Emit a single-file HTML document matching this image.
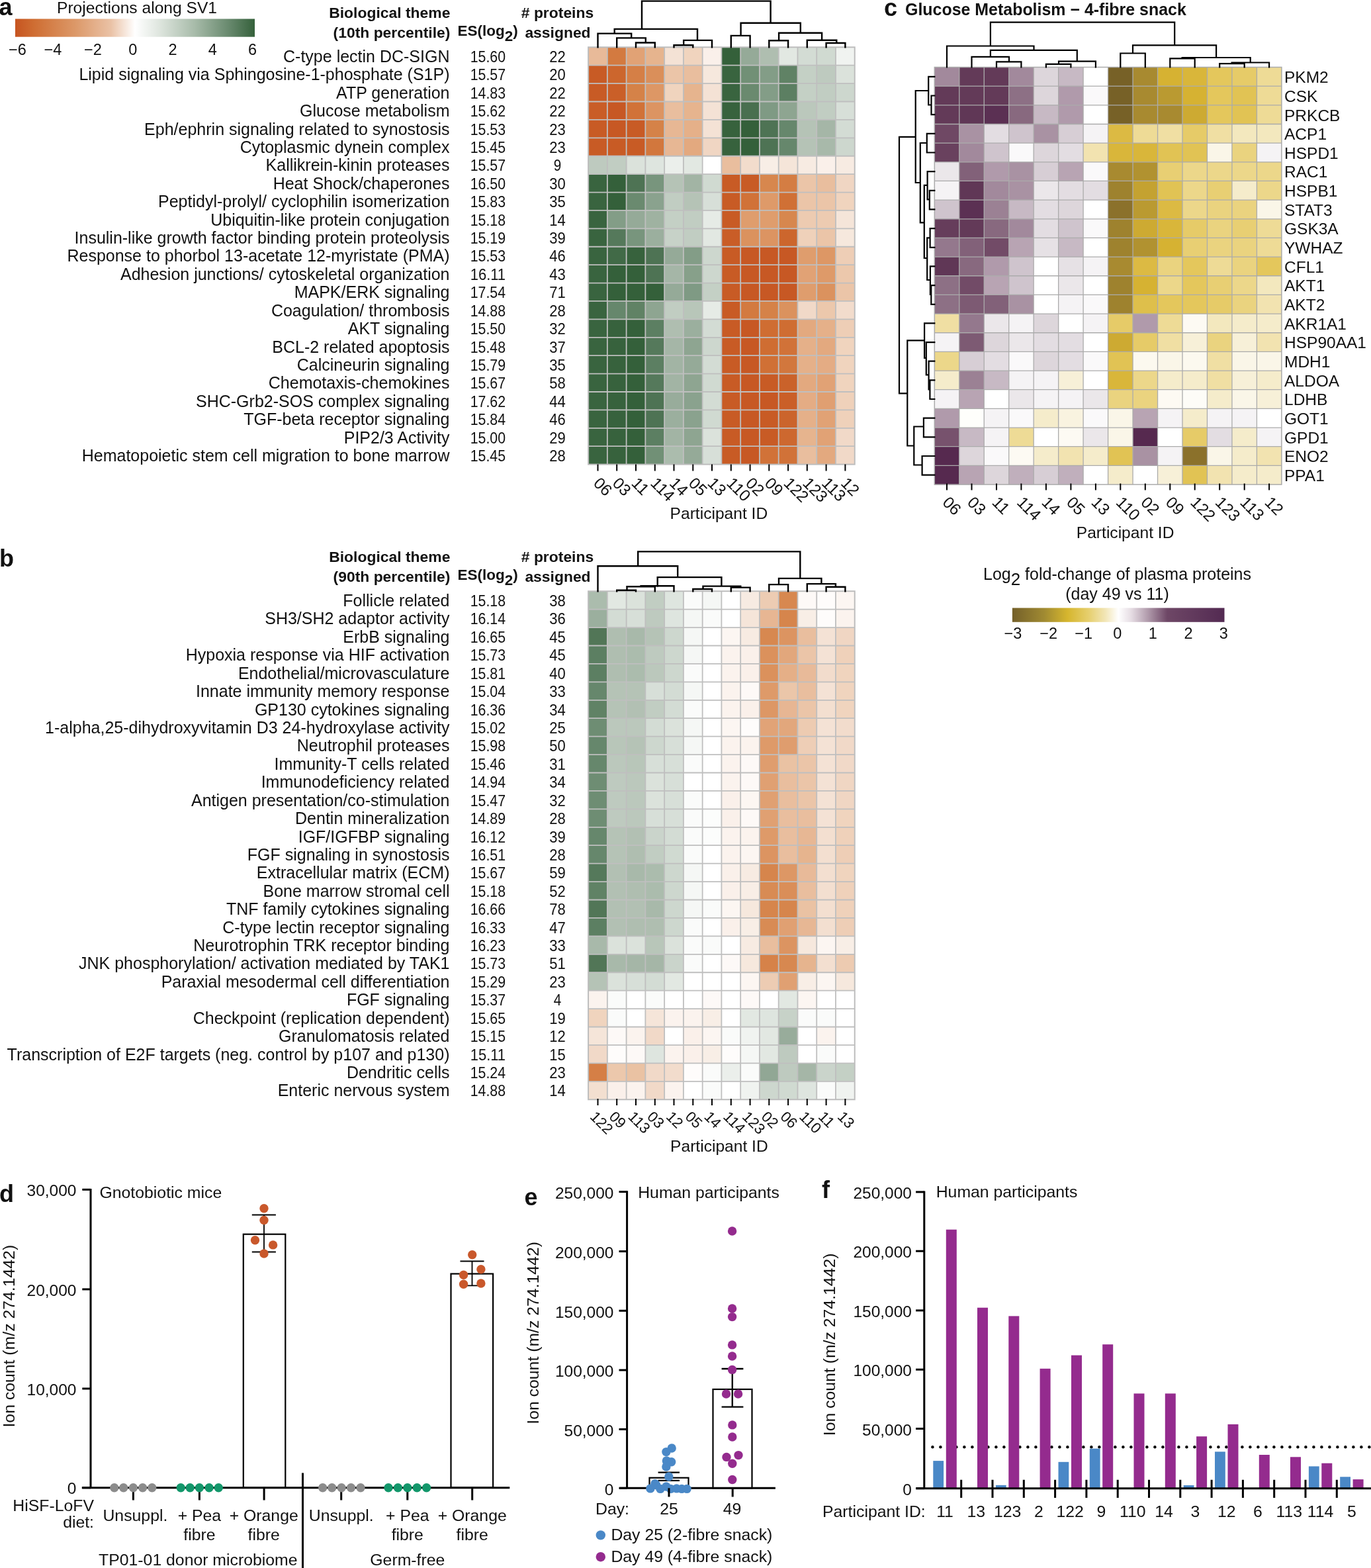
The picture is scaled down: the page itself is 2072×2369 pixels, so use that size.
<!DOCTYPE html>
<html><head><meta charset="utf-8"><title>Figure</title>
<style>html,body{margin:0;padding:0;background:#fff;} svg{display:block;} text{font-family:"Liberation Sans",Arial,sans-serif;fill:#111;}</style>
</head><body>
<svg width="2072" height="2369" viewBox="0 0 2072 2369">
<rect width="2072" height="2369" fill="#fff"/>
<text x="-1.5" y="22.5" font-size="36" text-anchor="start" font-weight="bold">a</text>
<text x="86.0" y="19.6" font-size="24.6" text-anchor="start">Projections along SV1</text>
<defs><linearGradient id="ga" x1="0" x2="1" y1="0" y2="0"><stop offset="0" stop-color="#c65420"/><stop offset="0.08" stop-color="#cf6e33"/><stop offset="0.25" stop-color="#dc9868"/><stop offset="0.4" stop-color="#eac2a6"/><stop offset="0.5" stop-color="#ffffff"/><stop offset="0.6" stop-color="#dfe6df"/><stop offset="0.75" stop-color="#a7bba9"/><stop offset="0.9" stop-color="#64866a"/><stop offset="1" stop-color="#35613b"/></linearGradient><linearGradient id="gc" x1="0" x2="1" y1="0" y2="0"><stop offset="0" stop-color="#74602a"/><stop offset="0.15" stop-color="#a08a32"/><stop offset="0.26" stop-color="#d6b62e"/><stop offset="0.36" stop-color="#e6cf6e"/><stop offset="0.44" stop-color="#f2e6b8"/><stop offset="0.5" stop-color="#ffffff"/><stop offset="0.56" stop-color="#e6dde4"/><stop offset="0.64" stop-color="#b09aab"/><stop offset="0.73" stop-color="#6e4766"/><stop offset="1" stop-color="#532a52"/></linearGradient></defs>
<rect x="23" y="28.5" width="362" height="27.2" fill="url(#ga)"/>
<text x="26.4" y="82.6" font-size="23.5" text-anchor="middle">−6</text>
<text x="79.9" y="82.6" font-size="23.5" text-anchor="middle">−4</text>
<text x="140.4" y="82.6" font-size="23.5" text-anchor="middle">−2</text>
<text x="200.9" y="82.6" font-size="23.5" text-anchor="middle">0</text>
<text x="261.0" y="82.6" font-size="23.5" text-anchor="middle">2</text>
<text x="321.2" y="82.6" font-size="23.5" text-anchor="middle">4</text>
<text x="381.5" y="82.6" font-size="23.5" text-anchor="middle">6</text>
<text x="680.4" y="27.0" font-size="22.9" text-anchor="end" font-weight="bold">Biological theme</text>
<text x="680.4" y="57.0" font-size="22.9" text-anchor="end" font-weight="bold">(10th percentile)</text>
<text x="691.6" y="54.4" font-size="22.5" font-weight="bold">ES(log<tspan dy="7.5">2</tspan><tspan dy="-7.5">)</tspan></text>
<text x="842.5" y="27.0" font-size="22.9" text-anchor="middle" font-weight="bold"># proteins</text>
<text x="843.0" y="57.0" font-size="22.9" text-anchor="middle" font-weight="bold">assigned</text>
<text x="679.5" y="93.8" font-size="25" text-anchor="end">C-type lectin DC-SIGN</text>
<text x="737.4" y="93.8" font-size="24" text-anchor="middle" textLength="53.4" lengthAdjust="spacingAndGlyphs">15.60</text>
<text x="842.5" y="93.8" font-size="24" text-anchor="middle" textLength="24.5" lengthAdjust="spacingAndGlyphs">22</text>
<text x="679.5" y="121.2" font-size="25" text-anchor="end">Lipid signaling via Sphingosine-1-phosphate (S1P)</text>
<text x="737.4" y="121.2" font-size="24" text-anchor="middle" textLength="53.4" lengthAdjust="spacingAndGlyphs">15.57</text>
<text x="842.5" y="121.2" font-size="24" text-anchor="middle" textLength="24.5" lengthAdjust="spacingAndGlyphs">20</text>
<text x="679.5" y="148.6" font-size="25" text-anchor="end">ATP generation</text>
<text x="737.4" y="148.6" font-size="24" text-anchor="middle" textLength="53.4" lengthAdjust="spacingAndGlyphs">14.83</text>
<text x="842.5" y="148.6" font-size="24" text-anchor="middle" textLength="24.5" lengthAdjust="spacingAndGlyphs">22</text>
<text x="679.5" y="176.1" font-size="25" text-anchor="end">Glucose metabolism</text>
<text x="737.4" y="176.1" font-size="24" text-anchor="middle" textLength="53.4" lengthAdjust="spacingAndGlyphs">15.62</text>
<text x="842.5" y="176.1" font-size="24" text-anchor="middle" textLength="24.5" lengthAdjust="spacingAndGlyphs">22</text>
<text x="679.5" y="203.5" font-size="25" text-anchor="end">Eph/ephrin signaling related to synostosis</text>
<text x="737.4" y="203.5" font-size="24" text-anchor="middle" textLength="53.4" lengthAdjust="spacingAndGlyphs">15.53</text>
<text x="842.5" y="203.5" font-size="24" text-anchor="middle" textLength="24.5" lengthAdjust="spacingAndGlyphs">23</text>
<text x="679.5" y="230.9" font-size="25" text-anchor="end">Cytoplasmic dynein complex</text>
<text x="737.4" y="230.9" font-size="24" text-anchor="middle" textLength="53.4" lengthAdjust="spacingAndGlyphs">15.45</text>
<text x="842.5" y="230.9" font-size="24" text-anchor="middle" textLength="24.5" lengthAdjust="spacingAndGlyphs">23</text>
<text x="679.5" y="258.3" font-size="25" text-anchor="end">Kallikrein-kinin proteases</text>
<text x="737.4" y="258.3" font-size="24" text-anchor="middle" textLength="53.4" lengthAdjust="spacingAndGlyphs">15.57</text>
<text x="842.5" y="258.3" font-size="24" text-anchor="middle" textLength="11.5" lengthAdjust="spacingAndGlyphs">9</text>
<text x="679.5" y="285.7" font-size="25" text-anchor="end">Heat Shock/chaperones</text>
<text x="737.4" y="285.7" font-size="24" text-anchor="middle" textLength="53.4" lengthAdjust="spacingAndGlyphs">16.50</text>
<text x="842.5" y="285.7" font-size="24" text-anchor="middle" textLength="24.5" lengthAdjust="spacingAndGlyphs">30</text>
<text x="679.5" y="313.2" font-size="25" text-anchor="end">Peptidyl-prolyl/ cyclophilin isomerization</text>
<text x="737.4" y="313.2" font-size="24" text-anchor="middle" textLength="53.4" lengthAdjust="spacingAndGlyphs">15.83</text>
<text x="842.5" y="313.2" font-size="24" text-anchor="middle" textLength="24.5" lengthAdjust="spacingAndGlyphs">35</text>
<text x="679.5" y="340.6" font-size="25" text-anchor="end">Ubiquitin-like protein conjugation</text>
<text x="737.4" y="340.6" font-size="24" text-anchor="middle" textLength="53.4" lengthAdjust="spacingAndGlyphs">15.18</text>
<text x="842.5" y="340.6" font-size="24" text-anchor="middle" textLength="24.5" lengthAdjust="spacingAndGlyphs">14</text>
<text x="679.5" y="368.0" font-size="25" text-anchor="end">Insulin-like growth factor binding protein proteolysis</text>
<text x="737.4" y="368.0" font-size="24" text-anchor="middle" textLength="53.4" lengthAdjust="spacingAndGlyphs">15.19</text>
<text x="842.5" y="368.0" font-size="24" text-anchor="middle" textLength="24.5" lengthAdjust="spacingAndGlyphs">39</text>
<text x="679.5" y="395.4" font-size="25" text-anchor="end">Response to phorbol 13-acetate 12-myristate (PMA)</text>
<text x="737.4" y="395.4" font-size="24" text-anchor="middle" textLength="53.4" lengthAdjust="spacingAndGlyphs">15.53</text>
<text x="842.5" y="395.4" font-size="24" text-anchor="middle" textLength="24.5" lengthAdjust="spacingAndGlyphs">46</text>
<text x="679.5" y="422.8" font-size="25" text-anchor="end">Adhesion junctions/ cytoskeletal organization</text>
<text x="737.4" y="422.8" font-size="24" text-anchor="middle" textLength="53.4" lengthAdjust="spacingAndGlyphs">16.11</text>
<text x="842.5" y="422.8" font-size="24" text-anchor="middle" textLength="24.5" lengthAdjust="spacingAndGlyphs">43</text>
<text x="679.5" y="450.3" font-size="25" text-anchor="end">MAPK/ERK signaling</text>
<text x="737.4" y="450.3" font-size="24" text-anchor="middle" textLength="53.4" lengthAdjust="spacingAndGlyphs">17.54</text>
<text x="842.5" y="450.3" font-size="24" text-anchor="middle" textLength="24.5" lengthAdjust="spacingAndGlyphs">71</text>
<text x="679.5" y="477.7" font-size="25" text-anchor="end">Coagulation/ thrombosis</text>
<text x="737.4" y="477.7" font-size="24" text-anchor="middle" textLength="53.4" lengthAdjust="spacingAndGlyphs">14.88</text>
<text x="842.5" y="477.7" font-size="24" text-anchor="middle" textLength="24.5" lengthAdjust="spacingAndGlyphs">28</text>
<text x="679.5" y="505.1" font-size="25" text-anchor="end">AKT signaling</text>
<text x="737.4" y="505.1" font-size="24" text-anchor="middle" textLength="53.4" lengthAdjust="spacingAndGlyphs">15.50</text>
<text x="842.5" y="505.1" font-size="24" text-anchor="middle" textLength="24.5" lengthAdjust="spacingAndGlyphs">32</text>
<text x="679.5" y="532.5" font-size="25" text-anchor="end">BCL-2 related apoptosis</text>
<text x="737.4" y="532.5" font-size="24" text-anchor="middle" textLength="53.4" lengthAdjust="spacingAndGlyphs">15.48</text>
<text x="842.5" y="532.5" font-size="24" text-anchor="middle" textLength="24.5" lengthAdjust="spacingAndGlyphs">37</text>
<text x="679.5" y="559.9" font-size="25" text-anchor="end">Calcineurin signaling</text>
<text x="737.4" y="559.9" font-size="24" text-anchor="middle" textLength="53.4" lengthAdjust="spacingAndGlyphs">15.79</text>
<text x="842.5" y="559.9" font-size="24" text-anchor="middle" textLength="24.5" lengthAdjust="spacingAndGlyphs">35</text>
<text x="679.5" y="587.4" font-size="25" text-anchor="end">Chemotaxis-chemokines</text>
<text x="737.4" y="587.4" font-size="24" text-anchor="middle" textLength="53.4" lengthAdjust="spacingAndGlyphs">15.67</text>
<text x="842.5" y="587.4" font-size="24" text-anchor="middle" textLength="24.5" lengthAdjust="spacingAndGlyphs">58</text>
<text x="679.5" y="614.8" font-size="25" text-anchor="end">SHC-Grb2-SOS complex signaling</text>
<text x="737.4" y="614.8" font-size="24" text-anchor="middle" textLength="53.4" lengthAdjust="spacingAndGlyphs">17.62</text>
<text x="842.5" y="614.8" font-size="24" text-anchor="middle" textLength="24.5" lengthAdjust="spacingAndGlyphs">44</text>
<text x="679.5" y="642.2" font-size="25" text-anchor="end">TGF-beta receptor signaling</text>
<text x="737.4" y="642.2" font-size="24" text-anchor="middle" textLength="53.4" lengthAdjust="spacingAndGlyphs">15.84</text>
<text x="842.5" y="642.2" font-size="24" text-anchor="middle" textLength="24.5" lengthAdjust="spacingAndGlyphs">46</text>
<text x="679.5" y="669.6" font-size="25" text-anchor="end">PIP2/3 Activity</text>
<text x="737.4" y="669.6" font-size="24" text-anchor="middle" textLength="53.4" lengthAdjust="spacingAndGlyphs">15.00</text>
<text x="842.5" y="669.6" font-size="24" text-anchor="middle" textLength="24.5" lengthAdjust="spacingAndGlyphs">29</text>
<text x="679.5" y="697.0" font-size="25" text-anchor="end">Hematopoietic stem cell migration to bone marrow</text>
<text x="737.4" y="697.0" font-size="24" text-anchor="middle" textLength="53.4" lengthAdjust="spacingAndGlyphs">15.45</text>
<text x="842.5" y="697.0" font-size="24" text-anchor="middle" textLength="24.5" lengthAdjust="spacingAndGlyphs">28</text>
<rect x="889.10" y="71.30" width="29.06" height="27.71" fill="#e8ba99"/>
<rect x="917.86" y="71.30" width="29.06" height="27.71" fill="#d37a40"/>
<rect x="946.62" y="71.30" width="29.06" height="27.71" fill="#e1a275"/>
<rect x="975.38" y="71.30" width="29.06" height="27.71" fill="#e6b48e"/>
<rect x="1004.14" y="71.30" width="29.06" height="27.71" fill="#f4e2d5"/>
<rect x="1032.90" y="71.30" width="29.06" height="27.71" fill="#f0d4be"/>
<rect x="1061.66" y="71.30" width="29.06" height="27.71" fill="#faf0ea"/>
<rect x="1090.42" y="71.30" width="29.06" height="27.71" fill="#34603a"/>
<rect x="1119.18" y="71.30" width="29.06" height="27.71" fill="#95aa98"/>
<rect x="1147.94" y="71.30" width="29.06" height="27.71" fill="#afbeb0"/>
<rect x="1176.70" y="71.30" width="29.06" height="27.71" fill="#e2e8e2"/>
<rect x="1205.46" y="71.30" width="29.06" height="27.71" fill="#d3dcd4"/>
<rect x="1234.22" y="71.30" width="29.06" height="27.71" fill="#d0dad1"/>
<rect x="1262.98" y="71.30" width="29.06" height="27.71" fill="#f0f3f0"/>
<rect x="889.10" y="98.70" width="29.06" height="27.71" fill="#c85b25"/>
<rect x="917.86" y="98.70" width="29.06" height="27.71" fill="#cc662d"/>
<rect x="946.62" y="98.70" width="29.06" height="27.71" fill="#d57f46"/>
<rect x="975.38" y="98.70" width="29.06" height="27.71" fill="#da8f5a"/>
<rect x="1004.14" y="98.70" width="29.06" height="27.71" fill="#ebc5a8"/>
<rect x="1032.90" y="98.70" width="29.06" height="27.71" fill="#e9be9e"/>
<rect x="1061.66" y="98.70" width="29.06" height="27.71" fill="#f6e8dd"/>
<rect x="1090.42" y="98.70" width="29.06" height="27.71" fill="#39643f"/>
<rect x="1119.18" y="98.70" width="29.06" height="27.71" fill="#719076"/>
<rect x="1147.94" y="98.70" width="29.06" height="27.71" fill="#839d87"/>
<rect x="1176.70" y="98.70" width="29.06" height="27.71" fill="#608265"/>
<rect x="1205.46" y="98.70" width="29.06" height="27.71" fill="#c4d0c5"/>
<rect x="1234.22" y="98.70" width="29.06" height="27.71" fill="#becabf"/>
<rect x="1262.98" y="98.70" width="29.06" height="27.71" fill="#dbe2db"/>
<rect x="889.10" y="126.11" width="29.06" height="27.71" fill="#c85b25"/>
<rect x="917.86" y="126.11" width="29.06" height="27.71" fill="#ca5f28"/>
<rect x="946.62" y="126.11" width="29.06" height="27.71" fill="#d58248"/>
<rect x="975.38" y="126.11" width="29.06" height="27.71" fill="#dd9765"/>
<rect x="1004.14" y="126.11" width="29.06" height="27.71" fill="#f0d4be"/>
<rect x="1032.90" y="126.11" width="29.06" height="27.71" fill="#e6b48e"/>
<rect x="1061.66" y="126.11" width="29.06" height="27.71" fill="#f4e2d5"/>
<rect x="1090.42" y="126.11" width="29.06" height="27.71" fill="#39643f"/>
<rect x="1119.18" y="126.11" width="29.06" height="27.71" fill="#6a8a6f"/>
<rect x="1147.94" y="126.11" width="29.06" height="27.71" fill="#839d87"/>
<rect x="1176.70" y="126.11" width="29.06" height="27.71" fill="#5c7f62"/>
<rect x="1205.46" y="126.11" width="29.06" height="27.71" fill="#c4d0c5"/>
<rect x="1234.22" y="126.11" width="29.06" height="27.71" fill="#c1cdc2"/>
<rect x="1262.98" y="126.11" width="29.06" height="27.71" fill="#cdd7ce"/>
<rect x="889.10" y="153.51" width="29.06" height="27.71" fill="#c95d27"/>
<rect x="917.86" y="153.51" width="29.06" height="27.71" fill="#c75824"/>
<rect x="946.62" y="153.51" width="29.06" height="27.71" fill="#d17238"/>
<rect x="975.38" y="153.51" width="29.06" height="27.71" fill="#dc9462"/>
<rect x="1004.14" y="153.51" width="29.06" height="27.71" fill="#e9be9e"/>
<rect x="1032.90" y="153.51" width="29.06" height="27.71" fill="#e6b48e"/>
<rect x="1061.66" y="153.51" width="29.06" height="27.71" fill="#f4e2d5"/>
<rect x="1090.42" y="153.51" width="29.06" height="27.71" fill="#37623d"/>
<rect x="1119.18" y="153.51" width="29.06" height="27.71" fill="#496f4f"/>
<rect x="1147.94" y="153.51" width="29.06" height="27.71" fill="#7f9a84"/>
<rect x="1176.70" y="153.51" width="29.06" height="27.71" fill="#8ea591"/>
<rect x="1205.46" y="153.51" width="29.06" height="27.71" fill="#bbc8bc"/>
<rect x="1234.22" y="153.51" width="29.06" height="27.71" fill="#c1cdc2"/>
<rect x="1262.98" y="153.51" width="29.06" height="27.71" fill="#d7dfd8"/>
<rect x="889.10" y="180.92" width="29.06" height="27.71" fill="#c85b25"/>
<rect x="917.86" y="180.92" width="29.06" height="27.71" fill="#c75824"/>
<rect x="946.62" y="180.92" width="29.06" height="27.71" fill="#c85b25"/>
<rect x="975.38" y="180.92" width="29.06" height="27.71" fill="#d58248"/>
<rect x="1004.14" y="180.92" width="29.06" height="27.71" fill="#e7b794"/>
<rect x="1032.90" y="180.92" width="29.06" height="27.71" fill="#e5b089"/>
<rect x="1061.66" y="180.92" width="29.06" height="27.71" fill="#f4e2d5"/>
<rect x="1090.42" y="180.92" width="29.06" height="27.71" fill="#37623d"/>
<rect x="1119.18" y="180.92" width="29.06" height="27.71" fill="#34603a"/>
<rect x="1147.94" y="180.92" width="29.06" height="27.71" fill="#4e7354"/>
<rect x="1176.70" y="180.92" width="29.06" height="27.71" fill="#66876c"/>
<rect x="1205.46" y="180.92" width="29.06" height="27.71" fill="#b5c3b6"/>
<rect x="1234.22" y="180.92" width="29.06" height="27.71" fill="#a5b6a7"/>
<rect x="1262.98" y="180.92" width="29.06" height="27.71" fill="#d3dcd4"/>
<rect x="889.10" y="208.32" width="29.06" height="27.71" fill="#c85b25"/>
<rect x="917.86" y="208.32" width="29.06" height="27.71" fill="#c85b25"/>
<rect x="946.62" y="208.32" width="29.06" height="27.71" fill="#c85b25"/>
<rect x="975.38" y="208.32" width="29.06" height="27.71" fill="#d2773d"/>
<rect x="1004.14" y="208.32" width="29.06" height="27.71" fill="#e7b794"/>
<rect x="1032.90" y="208.32" width="29.06" height="27.71" fill="#e3a97f"/>
<rect x="1061.66" y="208.32" width="29.06" height="27.71" fill="#f0d6c3"/>
<rect x="1090.42" y="208.32" width="29.06" height="27.71" fill="#37623d"/>
<rect x="1119.18" y="208.32" width="29.06" height="27.71" fill="#34603a"/>
<rect x="1147.94" y="208.32" width="29.06" height="27.71" fill="#4e7354"/>
<rect x="1176.70" y="208.32" width="29.06" height="27.71" fill="#66876c"/>
<rect x="1205.46" y="208.32" width="29.06" height="27.71" fill="#b5c3b6"/>
<rect x="1234.22" y="208.32" width="29.06" height="27.71" fill="#a8b9aa"/>
<rect x="1262.98" y="208.32" width="29.06" height="27.71" fill="#cdd7ce"/>
<rect x="889.10" y="235.73" width="29.06" height="27.71" fill="#becabf"/>
<rect x="917.86" y="235.73" width="29.06" height="27.71" fill="#c1cdc2"/>
<rect x="946.62" y="235.73" width="29.06" height="27.71" fill="#dbe2db"/>
<rect x="975.38" y="235.73" width="29.06" height="27.71" fill="#dee5df"/>
<rect x="1004.14" y="235.73" width="29.06" height="27.71" fill="#ebefeb"/>
<rect x="1032.90" y="235.73" width="29.06" height="27.71" fill="#e2e8e2"/>
<rect x="1061.66" y="235.73" width="29.06" height="27.71" fill="#ffffff"/>
<rect x="1090.42" y="235.73" width="29.06" height="27.71" fill="#e9be9e"/>
<rect x="1119.18" y="235.73" width="29.06" height="27.71" fill="#f2dccc"/>
<rect x="1147.94" y="235.73" width="29.06" height="27.71" fill="#f8eee6"/>
<rect x="1176.70" y="235.73" width="29.06" height="27.71" fill="#f5e5d9"/>
<rect x="1205.46" y="235.73" width="29.06" height="27.71" fill="#f7ebe2"/>
<rect x="1234.22" y="235.73" width="29.06" height="27.71" fill="#faf0ea"/>
<rect x="1262.98" y="235.73" width="29.06" height="27.71" fill="#f7ebe2"/>
<rect x="889.10" y="263.13" width="29.06" height="27.71" fill="#39643f"/>
<rect x="917.86" y="263.13" width="29.06" height="27.71" fill="#34603a"/>
<rect x="946.62" y="263.13" width="29.06" height="27.71" fill="#4e7354"/>
<rect x="975.38" y="263.13" width="29.06" height="27.71" fill="#78957d"/>
<rect x="1004.14" y="263.13" width="29.06" height="27.71" fill="#b5c3b6"/>
<rect x="1032.90" y="263.13" width="29.06" height="27.71" fill="#a2b4a4"/>
<rect x="1061.66" y="263.13" width="29.06" height="27.71" fill="#d0dad1"/>
<rect x="1090.42" y="263.13" width="29.06" height="27.71" fill="#c85b25"/>
<rect x="1119.18" y="263.13" width="29.06" height="27.71" fill="#c85b25"/>
<rect x="1147.94" y="263.13" width="29.06" height="27.71" fill="#d7874e"/>
<rect x="1176.70" y="263.13" width="29.06" height="27.71" fill="#d47d43"/>
<rect x="1205.46" y="263.13" width="29.06" height="27.71" fill="#ebc5a8"/>
<rect x="1234.22" y="263.13" width="29.06" height="27.71" fill="#e9be9e"/>
<rect x="1262.98" y="263.13" width="29.06" height="27.71" fill="#f0d6c3"/>
<rect x="889.10" y="290.54" width="29.06" height="27.71" fill="#39643f"/>
<rect x="917.86" y="290.54" width="29.06" height="27.71" fill="#34603a"/>
<rect x="946.62" y="290.54" width="29.06" height="27.71" fill="#6a8a6f"/>
<rect x="975.38" y="290.54" width="29.06" height="27.71" fill="#8aa28e"/>
<rect x="1004.14" y="290.54" width="29.06" height="27.71" fill="#c1cdc2"/>
<rect x="1032.90" y="290.54" width="29.06" height="27.71" fill="#b5c3b6"/>
<rect x="1061.66" y="290.54" width="29.06" height="27.71" fill="#d7dfd8"/>
<rect x="1090.42" y="290.54" width="29.06" height="27.71" fill="#c85b25"/>
<rect x="1119.18" y="290.54" width="29.06" height="27.71" fill="#d17238"/>
<rect x="1147.94" y="290.54" width="29.06" height="27.71" fill="#de9a69"/>
<rect x="1176.70" y="290.54" width="29.06" height="27.71" fill="#d07035"/>
<rect x="1205.46" y="290.54" width="29.06" height="27.71" fill="#ebc5a8"/>
<rect x="1234.22" y="290.54" width="29.06" height="27.71" fill="#ebc5a8"/>
<rect x="1262.98" y="290.54" width="29.06" height="27.71" fill="#f0d4be"/>
<rect x="889.10" y="317.94" width="29.06" height="27.71" fill="#39643f"/>
<rect x="917.86" y="317.94" width="29.06" height="27.71" fill="#839d87"/>
<rect x="946.62" y="317.94" width="29.06" height="27.71" fill="#95aa98"/>
<rect x="975.38" y="317.94" width="29.06" height="27.71" fill="#9fb2a1"/>
<rect x="1004.14" y="317.94" width="29.06" height="27.71" fill="#c4d0c5"/>
<rect x="1032.90" y="317.94" width="29.06" height="27.71" fill="#c1cdc2"/>
<rect x="1061.66" y="317.94" width="29.06" height="27.71" fill="#e6ebe6"/>
<rect x="1090.42" y="317.94" width="29.06" height="27.71" fill="#c85b25"/>
<rect x="1119.18" y="317.94" width="29.06" height="27.71" fill="#df9d6d"/>
<rect x="1147.94" y="317.94" width="29.06" height="27.71" fill="#df9d6d"/>
<rect x="1176.70" y="317.94" width="29.06" height="27.71" fill="#d7874e"/>
<rect x="1205.46" y="317.94" width="29.06" height="27.71" fill="#edcbb1"/>
<rect x="1234.22" y="317.94" width="29.06" height="27.71" fill="#edcbb1"/>
<rect x="1262.98" y="317.94" width="29.06" height="27.71" fill="#f5e5d9"/>
<rect x="889.10" y="345.35" width="29.06" height="27.71" fill="#39643f"/>
<rect x="917.86" y="345.35" width="29.06" height="27.71" fill="#55795b"/>
<rect x="946.62" y="345.35" width="29.06" height="27.71" fill="#78957d"/>
<rect x="975.38" y="345.35" width="29.06" height="27.71" fill="#9baf9e"/>
<rect x="1004.14" y="345.35" width="29.06" height="27.71" fill="#c7d2c8"/>
<rect x="1032.90" y="345.35" width="29.06" height="27.71" fill="#c1cdc2"/>
<rect x="1061.66" y="345.35" width="29.06" height="27.71" fill="#e2e8e2"/>
<rect x="1090.42" y="345.35" width="29.06" height="27.71" fill="#c95d27"/>
<rect x="1119.18" y="345.35" width="29.06" height="27.71" fill="#db925e"/>
<rect x="1147.94" y="345.35" width="29.06" height="27.71" fill="#dc9462"/>
<rect x="1176.70" y="345.35" width="29.06" height="27.71" fill="#cc662d"/>
<rect x="1205.46" y="345.35" width="29.06" height="27.71" fill="#efd1ba"/>
<rect x="1234.22" y="345.35" width="29.06" height="27.71" fill="#ebc5a8"/>
<rect x="1262.98" y="345.35" width="29.06" height="27.71" fill="#f6e8dd"/>
<rect x="889.10" y="372.76" width="29.06" height="27.71" fill="#39643f"/>
<rect x="917.86" y="372.76" width="29.06" height="27.71" fill="#416a47"/>
<rect x="946.62" y="372.76" width="29.06" height="27.71" fill="#37623d"/>
<rect x="975.38" y="372.76" width="29.06" height="27.71" fill="#4e7354"/>
<rect x="1004.14" y="372.76" width="29.06" height="27.71" fill="#95aa98"/>
<rect x="1032.90" y="372.76" width="29.06" height="27.71" fill="#839d87"/>
<rect x="1061.66" y="372.76" width="29.06" height="27.71" fill="#cdd7ce"/>
<rect x="1090.42" y="372.76" width="29.06" height="27.71" fill="#c85b25"/>
<rect x="1119.18" y="372.76" width="29.06" height="27.71" fill="#c75824"/>
<rect x="1147.94" y="372.76" width="29.06" height="27.71" fill="#c75824"/>
<rect x="1176.70" y="372.76" width="29.06" height="27.71" fill="#c75824"/>
<rect x="1205.46" y="372.76" width="29.06" height="27.71" fill="#df9d6d"/>
<rect x="1234.22" y="372.76" width="29.06" height="27.71" fill="#dd9765"/>
<rect x="1262.98" y="372.76" width="29.06" height="27.71" fill="#eeceb6"/>
<rect x="889.10" y="400.16" width="29.06" height="27.71" fill="#39643f"/>
<rect x="917.86" y="400.16" width="29.06" height="27.71" fill="#34603a"/>
<rect x="946.62" y="400.16" width="29.06" height="27.71" fill="#34603a"/>
<rect x="975.38" y="400.16" width="29.06" height="27.71" fill="#4e7354"/>
<rect x="1004.14" y="400.16" width="29.06" height="27.71" fill="#a5b6a7"/>
<rect x="1032.90" y="400.16" width="29.06" height="27.71" fill="#87a08a"/>
<rect x="1061.66" y="400.16" width="29.06" height="27.71" fill="#cdd7ce"/>
<rect x="1090.42" y="400.16" width="29.06" height="27.71" fill="#c85b25"/>
<rect x="1119.18" y="400.16" width="29.06" height="27.71" fill="#c75824"/>
<rect x="1147.94" y="400.16" width="29.06" height="27.71" fill="#c75824"/>
<rect x="1176.70" y="400.16" width="29.06" height="27.71" fill="#c75824"/>
<rect x="1205.46" y="400.16" width="29.06" height="27.71" fill="#e1a275"/>
<rect x="1234.22" y="400.16" width="29.06" height="27.71" fill="#de9a69"/>
<rect x="1262.98" y="400.16" width="29.06" height="27.71" fill="#ecc8ac"/>
<rect x="889.10" y="427.56" width="29.06" height="27.71" fill="#39643f"/>
<rect x="917.86" y="427.56" width="29.06" height="27.71" fill="#34603a"/>
<rect x="946.62" y="427.56" width="29.06" height="27.71" fill="#34603a"/>
<rect x="975.38" y="427.56" width="29.06" height="27.71" fill="#34603a"/>
<rect x="1004.14" y="427.56" width="29.06" height="27.71" fill="#95aa98"/>
<rect x="1032.90" y="427.56" width="29.06" height="27.71" fill="#7f9a84"/>
<rect x="1061.66" y="427.56" width="29.06" height="27.71" fill="#c4d0c5"/>
<rect x="1090.42" y="427.56" width="29.06" height="27.71" fill="#c85b25"/>
<rect x="1119.18" y="427.56" width="29.06" height="27.71" fill="#c75824"/>
<rect x="1147.94" y="427.56" width="29.06" height="27.71" fill="#c75824"/>
<rect x="1176.70" y="427.56" width="29.06" height="27.71" fill="#c75824"/>
<rect x="1205.46" y="427.56" width="29.06" height="27.71" fill="#df9d6d"/>
<rect x="1234.22" y="427.56" width="29.06" height="27.71" fill="#db925e"/>
<rect x="1262.98" y="427.56" width="29.06" height="27.71" fill="#ebc5a8"/>
<rect x="889.10" y="454.97" width="29.06" height="27.71" fill="#39643f"/>
<rect x="917.86" y="454.97" width="29.06" height="27.71" fill="#66876c"/>
<rect x="946.62" y="454.97" width="29.06" height="27.71" fill="#608265"/>
<rect x="975.38" y="454.97" width="29.06" height="27.71" fill="#8ea591"/>
<rect x="1004.14" y="454.97" width="29.06" height="27.71" fill="#c1cdc2"/>
<rect x="1032.90" y="454.97" width="29.06" height="27.71" fill="#b8c6b9"/>
<rect x="1061.66" y="454.97" width="29.06" height="27.71" fill="#e6ebe6"/>
<rect x="1090.42" y="454.97" width="29.06" height="27.71" fill="#c85b25"/>
<rect x="1119.18" y="454.97" width="29.06" height="27.71" fill="#d37a40"/>
<rect x="1147.94" y="454.97" width="29.06" height="27.71" fill="#d58248"/>
<rect x="1176.70" y="454.97" width="29.06" height="27.71" fill="#db925e"/>
<rect x="1205.46" y="454.97" width="29.06" height="27.71" fill="#f1d9c8"/>
<rect x="1234.22" y="454.97" width="29.06" height="27.71" fill="#ecc8ac"/>
<rect x="1262.98" y="454.97" width="29.06" height="27.71" fill="#f2dccc"/>
<rect x="889.10" y="482.38" width="29.06" height="27.71" fill="#39643f"/>
<rect x="917.86" y="482.38" width="29.06" height="27.71" fill="#37623d"/>
<rect x="946.62" y="482.38" width="29.06" height="27.71" fill="#34603a"/>
<rect x="975.38" y="482.38" width="29.06" height="27.71" fill="#5c7f62"/>
<rect x="1004.14" y="482.38" width="29.06" height="27.71" fill="#afbeb0"/>
<rect x="1032.90" y="482.38" width="29.06" height="27.71" fill="#9baf9e"/>
<rect x="1061.66" y="482.38" width="29.06" height="27.71" fill="#d3dcd4"/>
<rect x="1090.42" y="482.38" width="29.06" height="27.71" fill="#c85b25"/>
<rect x="1119.18" y="482.38" width="29.06" height="27.71" fill="#c75824"/>
<rect x="1147.94" y="482.38" width="29.06" height="27.71" fill="#cf6d32"/>
<rect x="1176.70" y="482.38" width="29.06" height="27.71" fill="#cf6d32"/>
<rect x="1205.46" y="482.38" width="29.06" height="27.71" fill="#e3a97f"/>
<rect x="1234.22" y="482.38" width="29.06" height="27.71" fill="#e5b089"/>
<rect x="1262.98" y="482.38" width="29.06" height="27.71" fill="#eeceb6"/>
<rect x="889.10" y="509.78" width="29.06" height="27.71" fill="#39643f"/>
<rect x="917.86" y="509.78" width="29.06" height="27.71" fill="#37623d"/>
<rect x="946.62" y="509.78" width="29.06" height="27.71" fill="#34603a"/>
<rect x="975.38" y="509.78" width="29.06" height="27.71" fill="#55795b"/>
<rect x="1004.14" y="509.78" width="29.06" height="27.71" fill="#a5b6a7"/>
<rect x="1032.90" y="509.78" width="29.06" height="27.71" fill="#8ea591"/>
<rect x="1061.66" y="509.78" width="29.06" height="27.71" fill="#cdd7ce"/>
<rect x="1090.42" y="509.78" width="29.06" height="27.71" fill="#c85b25"/>
<rect x="1119.18" y="509.78" width="29.06" height="27.71" fill="#c75824"/>
<rect x="1147.94" y="509.78" width="29.06" height="27.71" fill="#cf6d32"/>
<rect x="1176.70" y="509.78" width="29.06" height="27.71" fill="#d17238"/>
<rect x="1205.46" y="509.78" width="29.06" height="27.71" fill="#e5b089"/>
<rect x="1234.22" y="509.78" width="29.06" height="27.71" fill="#e3a97f"/>
<rect x="1262.98" y="509.78" width="29.06" height="27.71" fill="#f0d4be"/>
<rect x="889.10" y="537.18" width="29.06" height="27.71" fill="#39643f"/>
<rect x="917.86" y="537.18" width="29.06" height="27.71" fill="#37623d"/>
<rect x="946.62" y="537.18" width="29.06" height="27.71" fill="#34603a"/>
<rect x="975.38" y="537.18" width="29.06" height="27.71" fill="#5c7f62"/>
<rect x="1004.14" y="537.18" width="29.06" height="27.71" fill="#a2b4a4"/>
<rect x="1032.90" y="537.18" width="29.06" height="27.71" fill="#95aa98"/>
<rect x="1061.66" y="537.18" width="29.06" height="27.71" fill="#d3dcd4"/>
<rect x="1090.42" y="537.18" width="29.06" height="27.71" fill="#c85b25"/>
<rect x="1119.18" y="537.18" width="29.06" height="27.71" fill="#c75824"/>
<rect x="1147.94" y="537.18" width="29.06" height="27.71" fill="#d07035"/>
<rect x="1176.70" y="537.18" width="29.06" height="27.71" fill="#d2773d"/>
<rect x="1205.46" y="537.18" width="29.06" height="27.71" fill="#e5b089"/>
<rect x="1234.22" y="537.18" width="29.06" height="27.71" fill="#e4ac84"/>
<rect x="1262.98" y="537.18" width="29.06" height="27.71" fill="#f0d4be"/>
<rect x="889.10" y="564.59" width="29.06" height="27.71" fill="#39643f"/>
<rect x="917.86" y="564.59" width="29.06" height="27.71" fill="#37623d"/>
<rect x="946.62" y="564.59" width="29.06" height="27.71" fill="#34603a"/>
<rect x="975.38" y="564.59" width="29.06" height="27.71" fill="#55795b"/>
<rect x="1004.14" y="564.59" width="29.06" height="27.71" fill="#a2b4a4"/>
<rect x="1032.90" y="564.59" width="29.06" height="27.71" fill="#8ea591"/>
<rect x="1061.66" y="564.59" width="29.06" height="27.71" fill="#d0dad1"/>
<rect x="1090.42" y="564.59" width="29.06" height="27.71" fill="#c85b25"/>
<rect x="1119.18" y="564.59" width="29.06" height="27.71" fill="#c75824"/>
<rect x="1147.94" y="564.59" width="29.06" height="27.71" fill="#c85b25"/>
<rect x="1176.70" y="564.59" width="29.06" height="27.71" fill="#ca622a"/>
<rect x="1205.46" y="564.59" width="29.06" height="27.71" fill="#e3a97f"/>
<rect x="1234.22" y="564.59" width="29.06" height="27.71" fill="#e1a275"/>
<rect x="1262.98" y="564.59" width="29.06" height="27.71" fill="#f0d4be"/>
<rect x="889.10" y="592.00" width="29.06" height="27.71" fill="#39643f"/>
<rect x="917.86" y="592.00" width="29.06" height="27.71" fill="#37623d"/>
<rect x="946.62" y="592.00" width="29.06" height="27.71" fill="#34603a"/>
<rect x="975.38" y="592.00" width="29.06" height="27.71" fill="#4e7354"/>
<rect x="1004.14" y="592.00" width="29.06" height="27.71" fill="#98ac9b"/>
<rect x="1032.90" y="592.00" width="29.06" height="27.71" fill="#8aa28e"/>
<rect x="1061.66" y="592.00" width="29.06" height="27.71" fill="#d3dcd4"/>
<rect x="1090.42" y="592.00" width="29.06" height="27.71" fill="#c85b25"/>
<rect x="1119.18" y="592.00" width="29.06" height="27.71" fill="#c75824"/>
<rect x="1147.94" y="592.00" width="29.06" height="27.71" fill="#c75824"/>
<rect x="1176.70" y="592.00" width="29.06" height="27.71" fill="#ca5f28"/>
<rect x="1205.46" y="592.00" width="29.06" height="27.71" fill="#e4ac84"/>
<rect x="1234.22" y="592.00" width="29.06" height="27.71" fill="#e09f71"/>
<rect x="1262.98" y="592.00" width="29.06" height="27.71" fill="#efd1ba"/>
<rect x="889.10" y="619.40" width="29.06" height="27.71" fill="#39643f"/>
<rect x="917.86" y="619.40" width="29.06" height="27.71" fill="#37623d"/>
<rect x="946.62" y="619.40" width="29.06" height="27.71" fill="#34603a"/>
<rect x="975.38" y="619.40" width="29.06" height="27.71" fill="#4e7354"/>
<rect x="1004.14" y="619.40" width="29.06" height="27.71" fill="#9baf9e"/>
<rect x="1032.90" y="619.40" width="29.06" height="27.71" fill="#8aa28e"/>
<rect x="1061.66" y="619.40" width="29.06" height="27.71" fill="#d0dad1"/>
<rect x="1090.42" y="619.40" width="29.06" height="27.71" fill="#c85b25"/>
<rect x="1119.18" y="619.40" width="29.06" height="27.71" fill="#c75824"/>
<rect x="1147.94" y="619.40" width="29.06" height="27.71" fill="#c85b25"/>
<rect x="1176.70" y="619.40" width="29.06" height="27.71" fill="#cb642c"/>
<rect x="1205.46" y="619.40" width="29.06" height="27.71" fill="#e5b089"/>
<rect x="1234.22" y="619.40" width="29.06" height="27.71" fill="#e1a275"/>
<rect x="1262.98" y="619.40" width="29.06" height="27.71" fill="#efd1ba"/>
<rect x="889.10" y="646.80" width="29.06" height="27.71" fill="#39643f"/>
<rect x="917.86" y="646.80" width="29.06" height="27.71" fill="#37623d"/>
<rect x="946.62" y="646.80" width="29.06" height="27.71" fill="#34603a"/>
<rect x="975.38" y="646.80" width="29.06" height="27.71" fill="#5c7f62"/>
<rect x="1004.14" y="646.80" width="29.06" height="27.71" fill="#a2b4a4"/>
<rect x="1032.90" y="646.80" width="29.06" height="27.71" fill="#8ea591"/>
<rect x="1061.66" y="646.80" width="29.06" height="27.71" fill="#dbe2db"/>
<rect x="1090.42" y="646.80" width="29.06" height="27.71" fill="#c85b25"/>
<rect x="1119.18" y="646.80" width="29.06" height="27.71" fill="#c75824"/>
<rect x="1147.94" y="646.80" width="29.06" height="27.71" fill="#c85b25"/>
<rect x="1176.70" y="646.80" width="29.06" height="27.71" fill="#cd682f"/>
<rect x="1205.46" y="646.80" width="29.06" height="27.71" fill="#e6b48e"/>
<rect x="1234.22" y="646.80" width="29.06" height="27.71" fill="#e1a275"/>
<rect x="1262.98" y="646.80" width="29.06" height="27.71" fill="#f1d9c8"/>
<rect x="889.10" y="674.21" width="29.06" height="27.71" fill="#39643f"/>
<rect x="917.86" y="674.21" width="29.06" height="27.71" fill="#37623d"/>
<rect x="946.62" y="674.21" width="29.06" height="27.71" fill="#34603a"/>
<rect x="975.38" y="674.21" width="29.06" height="27.71" fill="#719076"/>
<rect x="1004.14" y="674.21" width="29.06" height="27.71" fill="#abbcad"/>
<rect x="1032.90" y="674.21" width="29.06" height="27.71" fill="#95aa98"/>
<rect x="1061.66" y="674.21" width="29.06" height="27.71" fill="#d7dfd8"/>
<rect x="1090.42" y="674.21" width="29.06" height="27.71" fill="#c85b25"/>
<rect x="1119.18" y="674.21" width="29.06" height="27.71" fill="#c75824"/>
<rect x="1147.94" y="674.21" width="29.06" height="27.71" fill="#d17238"/>
<rect x="1176.70" y="674.21" width="29.06" height="27.71" fill="#d17238"/>
<rect x="1205.46" y="674.21" width="29.06" height="27.71" fill="#e9be9e"/>
<rect x="1234.22" y="674.21" width="29.06" height="27.71" fill="#e3a97f"/>
<rect x="1262.98" y="674.21" width="29.06" height="27.71" fill="#f1d9c8"/>
<path d="M917.86 71.30V701.62M946.62 71.30V701.62M975.38 71.30V701.62M1004.14 71.30V701.62M1032.90 71.30V701.62M1061.66 71.30V701.62M1090.42 71.30V701.62M1119.18 71.30V701.62M1147.94 71.30V701.62M1176.70 71.30V701.62M1205.46 71.30V701.62M1234.22 71.30V701.62M1262.98 71.30V701.62M889.10 98.70H1291.74M889.10 126.11H1291.74M889.10 153.51H1291.74M889.10 180.92H1291.74M889.10 208.32H1291.74M889.10 235.73H1291.74M889.10 263.13H1291.74M889.10 290.54H1291.74M889.10 317.94H1291.74M889.10 345.35H1291.74M889.10 372.76H1291.74M889.10 400.16H1291.74M889.10 427.56H1291.74M889.10 454.97H1291.74M889.10 482.38H1291.74M889.10 509.78H1291.74M889.10 537.18H1291.74M889.10 564.59H1291.74M889.10 592.00H1291.74M889.10 619.40H1291.74M889.10 646.80H1291.74M889.10 674.21H1291.74" stroke="#bfbfbf" stroke-width="1.8" fill="none"/>
<rect x="889.10" y="71.30" width="402.64" height="630.32" stroke="#bdbdbd" stroke-width="2" fill="none"/>
<path d="M970 43.9V1.6H1164.6V34.8 M928.7 50.6V43.9H1054V60.9 M903.5 71.3V50.6H954.2V57.4 M932.2 71.3V57.4H975.8V64.5 M961.0 71.3V64.5H989.8V71.3 M1033.2 68.3V60.9H1076.0V71.3 M1018.5 71.3V68.3H1047.3V71.3 M1119.6 53.9V34.8H1209.8V49.8 M1104.8 71.3V53.9H1133.6V71.3 M1177.1 61.2V49.8H1242.1V60.7 M1162.3 71.3V61.2H1191.1V71.3 M1219.8 71.3V60.7H1264.3V65 M1248.6 71.3V65H1277.4V71.3" stroke="#000" stroke-width="2.4" fill="none" stroke-linecap="square"/>
<path d="M903.5 701.6V711.6M932.2 701.6V711.6M961.0 701.6V711.6M989.8 701.6V711.6M1018.5 701.6V711.6M1047.3 701.6V711.6M1076.0 701.6V711.6M1104.8 701.6V711.6M1133.6 701.6V711.6M1162.3 701.6V711.6M1191.1 701.6V711.6M1219.8 701.6V711.6M1248.6 701.6V711.6M1277.4 701.6V711.6" stroke="#000" stroke-width="2.0"/>
<text x="0" y="0" font-size="24.5" transform="translate(895.5,731.6) rotate(45)">06</text>
<text x="0" y="0" font-size="24.5" transform="translate(924.2,731.6) rotate(45)">03</text>
<text x="0" y="0" font-size="24.5" transform="translate(953.0,731.6) rotate(45)">11</text>
<text x="0" y="0" font-size="24.5" transform="translate(981.8,731.6) rotate(45)">114</text>
<text x="0" y="0" font-size="24.5" transform="translate(1010.5,731.6) rotate(45)">14</text>
<text x="0" y="0" font-size="24.5" transform="translate(1039.3,731.6) rotate(45)">05</text>
<text x="0" y="0" font-size="24.5" transform="translate(1068.0,731.6) rotate(45)">13</text>
<text x="0" y="0" font-size="24.5" transform="translate(1096.8,731.6) rotate(45)">110</text>
<text x="0" y="0" font-size="24.5" transform="translate(1125.6,731.6) rotate(45)">02</text>
<text x="0" y="0" font-size="24.5" transform="translate(1154.3,731.6) rotate(45)">09</text>
<text x="0" y="0" font-size="24.5" transform="translate(1183.1,731.6) rotate(45)">122</text>
<text x="0" y="0" font-size="24.5" transform="translate(1211.8,731.6) rotate(45)">123</text>
<text x="0" y="0" font-size="24.5" transform="translate(1240.6,731.6) rotate(45)">113</text>
<text x="0" y="0" font-size="24.5" transform="translate(1269.4,731.6) rotate(45)">12</text>
<text x="1086.4" y="784.4" font-size="24.6" text-anchor="middle">Participant ID</text>
<text x="-1.0" y="855.5" font-size="36" text-anchor="start" font-weight="bold">b</text>
<text x="680.4" y="849.0" font-size="22.9" text-anchor="end" font-weight="bold">Biological theme</text>
<text x="680.4" y="879.0" font-size="22.9" text-anchor="end" font-weight="bold">(90th percentile)</text>
<text x="691.6" y="876.4" font-size="22.5" font-weight="bold">ES(log<tspan dy="7.5">2</tspan><tspan dy="-7.5">)</tspan></text>
<text x="842.5" y="849.0" font-size="22.9" text-anchor="middle" font-weight="bold"># proteins</text>
<text x="843.0" y="879.0" font-size="22.9" text-anchor="middle" font-weight="bold">assigned</text>
<text x="679.5" y="916.0" font-size="25" text-anchor="end">Follicle related</text>
<text x="737.4" y="916.0" font-size="24" text-anchor="middle" textLength="53.4" lengthAdjust="spacingAndGlyphs">15.18</text>
<text x="842.5" y="916.0" font-size="24" text-anchor="middle" textLength="24.5" lengthAdjust="spacingAndGlyphs">38</text>
<text x="679.5" y="943.4" font-size="25" text-anchor="end">SH3/SH2 adaptor activity</text>
<text x="737.4" y="943.4" font-size="24" text-anchor="middle" textLength="53.4" lengthAdjust="spacingAndGlyphs">16.14</text>
<text x="842.5" y="943.4" font-size="24" text-anchor="middle" textLength="24.5" lengthAdjust="spacingAndGlyphs">36</text>
<text x="679.5" y="970.8" font-size="25" text-anchor="end">ErbB signaling</text>
<text x="737.4" y="970.8" font-size="24" text-anchor="middle" textLength="53.4" lengthAdjust="spacingAndGlyphs">16.65</text>
<text x="842.5" y="970.8" font-size="24" text-anchor="middle" textLength="24.5" lengthAdjust="spacingAndGlyphs">45</text>
<text x="679.5" y="998.3" font-size="25" text-anchor="end">Hypoxia response via HIF activation</text>
<text x="737.4" y="998.3" font-size="24" text-anchor="middle" textLength="53.4" lengthAdjust="spacingAndGlyphs">15.73</text>
<text x="842.5" y="998.3" font-size="24" text-anchor="middle" textLength="24.5" lengthAdjust="spacingAndGlyphs">45</text>
<text x="679.5" y="1025.7" font-size="25" text-anchor="end">Endothelial/microvasculature</text>
<text x="737.4" y="1025.7" font-size="24" text-anchor="middle" textLength="53.4" lengthAdjust="spacingAndGlyphs">15.81</text>
<text x="842.5" y="1025.7" font-size="24" text-anchor="middle" textLength="24.5" lengthAdjust="spacingAndGlyphs">40</text>
<text x="679.5" y="1053.1" font-size="25" text-anchor="end">Innate immunity memory response</text>
<text x="737.4" y="1053.1" font-size="24" text-anchor="middle" textLength="53.4" lengthAdjust="spacingAndGlyphs">15.04</text>
<text x="842.5" y="1053.1" font-size="24" text-anchor="middle" textLength="24.5" lengthAdjust="spacingAndGlyphs">33</text>
<text x="679.5" y="1080.5" font-size="25" text-anchor="end">GP130 cytokines signaling</text>
<text x="737.4" y="1080.5" font-size="24" text-anchor="middle" textLength="53.4" lengthAdjust="spacingAndGlyphs">16.36</text>
<text x="842.5" y="1080.5" font-size="24" text-anchor="middle" textLength="24.5" lengthAdjust="spacingAndGlyphs">34</text>
<text x="679.5" y="1107.9" font-size="25" text-anchor="end">1-alpha,25-dihydroxyvitamin D3 24-hydroxylase activity</text>
<text x="737.4" y="1107.9" font-size="24" text-anchor="middle" textLength="53.4" lengthAdjust="spacingAndGlyphs">15.02</text>
<text x="842.5" y="1107.9" font-size="24" text-anchor="middle" textLength="24.5" lengthAdjust="spacingAndGlyphs">25</text>
<text x="679.5" y="1135.4" font-size="25" text-anchor="end">Neutrophil proteases</text>
<text x="737.4" y="1135.4" font-size="24" text-anchor="middle" textLength="53.4" lengthAdjust="spacingAndGlyphs">15.98</text>
<text x="842.5" y="1135.4" font-size="24" text-anchor="middle" textLength="24.5" lengthAdjust="spacingAndGlyphs">50</text>
<text x="679.5" y="1162.8" font-size="25" text-anchor="end">Immunity-T cells related</text>
<text x="737.4" y="1162.8" font-size="24" text-anchor="middle" textLength="53.4" lengthAdjust="spacingAndGlyphs">15.46</text>
<text x="842.5" y="1162.8" font-size="24" text-anchor="middle" textLength="24.5" lengthAdjust="spacingAndGlyphs">31</text>
<text x="679.5" y="1190.2" font-size="25" text-anchor="end">Immunodeficiency related</text>
<text x="737.4" y="1190.2" font-size="24" text-anchor="middle" textLength="53.4" lengthAdjust="spacingAndGlyphs">14.94</text>
<text x="842.5" y="1190.2" font-size="24" text-anchor="middle" textLength="24.5" lengthAdjust="spacingAndGlyphs">34</text>
<text x="679.5" y="1217.6" font-size="25" text-anchor="end">Antigen presentation/co-stimulation</text>
<text x="737.4" y="1217.6" font-size="24" text-anchor="middle" textLength="53.4" lengthAdjust="spacingAndGlyphs">15.47</text>
<text x="842.5" y="1217.6" font-size="24" text-anchor="middle" textLength="24.5" lengthAdjust="spacingAndGlyphs">32</text>
<text x="679.5" y="1245.0" font-size="25" text-anchor="end">Dentin mineralization</text>
<text x="737.4" y="1245.0" font-size="24" text-anchor="middle" textLength="53.4" lengthAdjust="spacingAndGlyphs">14.89</text>
<text x="842.5" y="1245.0" font-size="24" text-anchor="middle" textLength="24.5" lengthAdjust="spacingAndGlyphs">28</text>
<text x="679.5" y="1272.5" font-size="25" text-anchor="end">IGF/IGFBP signaling</text>
<text x="737.4" y="1272.5" font-size="24" text-anchor="middle" textLength="53.4" lengthAdjust="spacingAndGlyphs">16.12</text>
<text x="842.5" y="1272.5" font-size="24" text-anchor="middle" textLength="24.5" lengthAdjust="spacingAndGlyphs">39</text>
<text x="679.5" y="1299.9" font-size="25" text-anchor="end">FGF signaling in synostosis</text>
<text x="737.4" y="1299.9" font-size="24" text-anchor="middle" textLength="53.4" lengthAdjust="spacingAndGlyphs">16.51</text>
<text x="842.5" y="1299.9" font-size="24" text-anchor="middle" textLength="24.5" lengthAdjust="spacingAndGlyphs">28</text>
<text x="679.5" y="1327.3" font-size="25" text-anchor="end">Extracellular matrix (ECM)</text>
<text x="737.4" y="1327.3" font-size="24" text-anchor="middle" textLength="53.4" lengthAdjust="spacingAndGlyphs">15.67</text>
<text x="842.5" y="1327.3" font-size="24" text-anchor="middle" textLength="24.5" lengthAdjust="spacingAndGlyphs">59</text>
<text x="679.5" y="1354.7" font-size="25" text-anchor="end">Bone marrow stromal cell</text>
<text x="737.4" y="1354.7" font-size="24" text-anchor="middle" textLength="53.4" lengthAdjust="spacingAndGlyphs">15.18</text>
<text x="842.5" y="1354.7" font-size="24" text-anchor="middle" textLength="24.5" lengthAdjust="spacingAndGlyphs">52</text>
<text x="679.5" y="1382.1" font-size="25" text-anchor="end">TNF family cytokines signaling</text>
<text x="737.4" y="1382.1" font-size="24" text-anchor="middle" textLength="53.4" lengthAdjust="spacingAndGlyphs">16.66</text>
<text x="842.5" y="1382.1" font-size="24" text-anchor="middle" textLength="24.5" lengthAdjust="spacingAndGlyphs">78</text>
<text x="679.5" y="1409.6" font-size="25" text-anchor="end">C-type lectin receptor signaling</text>
<text x="737.4" y="1409.6" font-size="24" text-anchor="middle" textLength="53.4" lengthAdjust="spacingAndGlyphs">16.33</text>
<text x="842.5" y="1409.6" font-size="24" text-anchor="middle" textLength="24.5" lengthAdjust="spacingAndGlyphs">47</text>
<text x="679.5" y="1437.0" font-size="25" text-anchor="end">Neurotrophin TRK receptor binding</text>
<text x="737.4" y="1437.0" font-size="24" text-anchor="middle" textLength="53.4" lengthAdjust="spacingAndGlyphs">16.23</text>
<text x="842.5" y="1437.0" font-size="24" text-anchor="middle" textLength="24.5" lengthAdjust="spacingAndGlyphs">33</text>
<text x="679.5" y="1464.4" font-size="25" text-anchor="end">JNK phosphorylation/ activation mediated by TAK1</text>
<text x="737.4" y="1464.4" font-size="24" text-anchor="middle" textLength="53.4" lengthAdjust="spacingAndGlyphs">15.73</text>
<text x="842.5" y="1464.4" font-size="24" text-anchor="middle" textLength="24.5" lengthAdjust="spacingAndGlyphs">51</text>
<text x="679.5" y="1491.8" font-size="25" text-anchor="end">Paraxial mesodermal cell differentiation</text>
<text x="737.4" y="1491.8" font-size="24" text-anchor="middle" textLength="53.4" lengthAdjust="spacingAndGlyphs">15.29</text>
<text x="842.5" y="1491.8" font-size="24" text-anchor="middle" textLength="24.5" lengthAdjust="spacingAndGlyphs">23</text>
<text x="679.5" y="1519.2" font-size="25" text-anchor="end">FGF signaling</text>
<text x="737.4" y="1519.2" font-size="24" text-anchor="middle" textLength="53.4" lengthAdjust="spacingAndGlyphs">15.37</text>
<text x="842.5" y="1519.2" font-size="24" text-anchor="middle" textLength="11.5" lengthAdjust="spacingAndGlyphs">4</text>
<text x="679.5" y="1546.7" font-size="25" text-anchor="end">Checkpoint (replication dependent)</text>
<text x="737.4" y="1546.7" font-size="24" text-anchor="middle" textLength="53.4" lengthAdjust="spacingAndGlyphs">15.65</text>
<text x="842.5" y="1546.7" font-size="24" text-anchor="middle" textLength="24.5" lengthAdjust="spacingAndGlyphs">19</text>
<text x="679.5" y="1574.1" font-size="25" text-anchor="end">Granulomatosis related</text>
<text x="737.4" y="1574.1" font-size="24" text-anchor="middle" textLength="53.4" lengthAdjust="spacingAndGlyphs">15.15</text>
<text x="842.5" y="1574.1" font-size="24" text-anchor="middle" textLength="24.5" lengthAdjust="spacingAndGlyphs">12</text>
<text x="679.5" y="1601.5" font-size="25" text-anchor="end">Transcription of E2F targets (neg. control by p107 and p130)</text>
<text x="737.4" y="1601.5" font-size="24" text-anchor="middle" textLength="53.4" lengthAdjust="spacingAndGlyphs">15.11</text>
<text x="842.5" y="1601.5" font-size="24" text-anchor="middle" textLength="24.5" lengthAdjust="spacingAndGlyphs">15</text>
<text x="679.5" y="1628.9" font-size="25" text-anchor="end">Dendritic cells</text>
<text x="737.4" y="1628.9" font-size="24" text-anchor="middle" textLength="53.4" lengthAdjust="spacingAndGlyphs">15.24</text>
<text x="842.5" y="1628.9" font-size="24" text-anchor="middle" textLength="24.5" lengthAdjust="spacingAndGlyphs">23</text>
<text x="679.5" y="1656.3" font-size="25" text-anchor="end">Enteric nervous system</text>
<text x="737.4" y="1656.3" font-size="24" text-anchor="middle" textLength="53.4" lengthAdjust="spacingAndGlyphs">14.88</text>
<text x="842.5" y="1656.3" font-size="24" text-anchor="middle" textLength="24.5" lengthAdjust="spacingAndGlyphs">14</text>
<rect x="889.10" y="893.20" width="29.06" height="27.73" fill="#abbcad"/>
<rect x="917.86" y="893.20" width="29.06" height="27.73" fill="#e2e8e2"/>
<rect x="946.62" y="893.20" width="29.06" height="27.73" fill="#dbe2db"/>
<rect x="975.38" y="893.20" width="29.06" height="27.73" fill="#c1cdc2"/>
<rect x="1004.14" y="893.20" width="29.06" height="27.73" fill="#dee5df"/>
<rect x="1032.90" y="893.20" width="29.06" height="27.73" fill="#fafbfa"/>
<rect x="1061.66" y="893.20" width="29.06" height="27.73" fill="#f5f7f5"/>
<rect x="1090.42" y="893.20" width="29.06" height="27.73" fill="#ffffff"/>
<rect x="1119.18" y="893.20" width="29.06" height="27.73" fill="#f7ebe2"/>
<rect x="1147.94" y="893.20" width="29.06" height="27.73" fill="#edccb3"/>
<rect x="1176.70" y="893.20" width="29.06" height="27.73" fill="#d78850"/>
<rect x="1205.46" y="893.20" width="29.06" height="27.73" fill="#fdf9f7"/>
<rect x="1234.22" y="893.20" width="29.06" height="27.73" fill="#fefcfb"/>
<rect x="1262.98" y="893.20" width="29.06" height="27.73" fill="#fcf6f2"/>
<rect x="889.10" y="920.63" width="29.06" height="27.73" fill="#9baf9e"/>
<rect x="917.86" y="920.63" width="29.06" height="27.73" fill="#d3dcd4"/>
<rect x="946.62" y="920.63" width="29.06" height="27.73" fill="#d7dfd8"/>
<rect x="975.38" y="920.63" width="29.06" height="27.73" fill="#becabf"/>
<rect x="1004.14" y="920.63" width="29.06" height="27.73" fill="#dee5df"/>
<rect x="1032.90" y="920.63" width="29.06" height="27.73" fill="#f5f7f5"/>
<rect x="1061.66" y="920.63" width="29.06" height="27.73" fill="#fafbfa"/>
<rect x="1090.42" y="920.63" width="29.06" height="27.73" fill="#ffffff"/>
<rect x="1119.18" y="920.63" width="29.06" height="27.73" fill="#f5e5d9"/>
<rect x="1147.94" y="920.63" width="29.06" height="27.73" fill="#e7b693"/>
<rect x="1176.70" y="920.63" width="29.06" height="27.73" fill="#d6854c"/>
<rect x="1205.46" y="920.63" width="29.06" height="27.73" fill="#f8eee6"/>
<rect x="1234.22" y="920.63" width="29.06" height="27.73" fill="#fefcfb"/>
<rect x="1262.98" y="920.63" width="29.06" height="27.73" fill="#fbf3ee"/>
<rect x="889.10" y="948.06" width="29.06" height="27.73" fill="#527657"/>
<rect x="917.86" y="948.06" width="29.06" height="27.73" fill="#afbeb0"/>
<rect x="946.62" y="948.06" width="29.06" height="27.73" fill="#a8b9aa"/>
<rect x="975.38" y="948.06" width="29.06" height="27.73" fill="#b5c3b6"/>
<rect x="1004.14" y="948.06" width="29.06" height="27.73" fill="#cdd7ce"/>
<rect x="1032.90" y="948.06" width="29.06" height="27.73" fill="#f5f7f5"/>
<rect x="1061.66" y="948.06" width="29.06" height="27.73" fill="#ffffff"/>
<rect x="1090.42" y="948.06" width="29.06" height="27.73" fill="#fcf6f2"/>
<rect x="1119.18" y="948.06" width="29.06" height="27.73" fill="#f7ebe2"/>
<rect x="1147.94" y="948.06" width="29.06" height="27.73" fill="#d78850"/>
<rect x="1176.70" y="948.06" width="29.06" height="27.73" fill="#dc9461"/>
<rect x="1205.46" y="948.06" width="29.06" height="27.73" fill="#e9be9e"/>
<rect x="1234.22" y="948.06" width="29.06" height="27.73" fill="#f4e2d5"/>
<rect x="1262.98" y="948.06" width="29.06" height="27.73" fill="#f0d6c3"/>
<rect x="889.10" y="975.49" width="29.06" height="27.73" fill="#5c7f62"/>
<rect x="917.86" y="975.49" width="29.06" height="27.73" fill="#afbeb0"/>
<rect x="946.62" y="975.49" width="29.06" height="27.73" fill="#abbcad"/>
<rect x="975.38" y="975.49" width="29.06" height="27.73" fill="#becabf"/>
<rect x="1004.14" y="975.49" width="29.06" height="27.73" fill="#cdd7ce"/>
<rect x="1032.90" y="975.49" width="29.06" height="27.73" fill="#f5f7f5"/>
<rect x="1061.66" y="975.49" width="29.06" height="27.73" fill="#ffffff"/>
<rect x="1090.42" y="975.49" width="29.06" height="27.73" fill="#fbf3ee"/>
<rect x="1119.18" y="975.49" width="29.06" height="27.73" fill="#faf0ea"/>
<rect x="1147.94" y="975.49" width="29.06" height="27.73" fill="#db915c"/>
<rect x="1176.70" y="975.49" width="29.06" height="27.73" fill="#e2a77c"/>
<rect x="1205.46" y="975.49" width="29.06" height="27.73" fill="#ebc5a8"/>
<rect x="1234.22" y="975.49" width="29.06" height="27.73" fill="#f4e2d5"/>
<rect x="1262.98" y="975.49" width="29.06" height="27.73" fill="#efd1ba"/>
<rect x="889.10" y="1002.92" width="29.06" height="27.73" fill="#5c7f62"/>
<rect x="917.86" y="1002.92" width="29.06" height="27.73" fill="#afbeb0"/>
<rect x="946.62" y="1002.92" width="29.06" height="27.73" fill="#abbcad"/>
<rect x="975.38" y="1002.92" width="29.06" height="27.73" fill="#bbc8bc"/>
<rect x="1004.14" y="1002.92" width="29.06" height="27.73" fill="#cdd7ce"/>
<rect x="1032.90" y="1002.92" width="29.06" height="27.73" fill="#fafbfa"/>
<rect x="1061.66" y="1002.92" width="29.06" height="27.73" fill="#ffffff"/>
<rect x="1090.42" y="1002.92" width="29.06" height="27.73" fill="#fbf3ee"/>
<rect x="1119.18" y="1002.92" width="29.06" height="27.73" fill="#faf0ea"/>
<rect x="1147.94" y="1002.92" width="29.06" height="27.73" fill="#db915c"/>
<rect x="1176.70" y="1002.92" width="29.06" height="27.73" fill="#e5af87"/>
<rect x="1205.46" y="1002.92" width="29.06" height="27.73" fill="#e8ba99"/>
<rect x="1234.22" y="1002.92" width="29.06" height="27.73" fill="#f2dccc"/>
<rect x="1262.98" y="1002.92" width="29.06" height="27.73" fill="#f0d4be"/>
<rect x="889.10" y="1030.35" width="29.06" height="27.73" fill="#66876c"/>
<rect x="917.86" y="1030.35" width="29.06" height="27.73" fill="#b5c3b6"/>
<rect x="946.62" y="1030.35" width="29.06" height="27.73" fill="#b5c3b6"/>
<rect x="975.38" y="1030.35" width="29.06" height="27.73" fill="#d7dfd8"/>
<rect x="1004.14" y="1030.35" width="29.06" height="27.73" fill="#d3dcd4"/>
<rect x="1032.90" y="1030.35" width="29.06" height="27.73" fill="#f5f7f5"/>
<rect x="1061.66" y="1030.35" width="29.06" height="27.73" fill="#ffffff"/>
<rect x="1090.42" y="1030.35" width="29.06" height="27.73" fill="#fbf3ee"/>
<rect x="1119.18" y="1030.35" width="29.06" height="27.73" fill="#fdf9f7"/>
<rect x="1147.94" y="1030.35" width="29.06" height="27.73" fill="#de9a69"/>
<rect x="1176.70" y="1030.35" width="29.06" height="27.73" fill="#ebc6a9"/>
<rect x="1205.46" y="1030.35" width="29.06" height="27.73" fill="#e9be9e"/>
<rect x="1234.22" y="1030.35" width="29.06" height="27.73" fill="#f4e2d5"/>
<rect x="1262.98" y="1030.35" width="29.06" height="27.73" fill="#f0d4be"/>
<rect x="889.10" y="1057.78" width="29.06" height="27.73" fill="#608265"/>
<rect x="917.86" y="1057.78" width="29.06" height="27.73" fill="#b5c3b6"/>
<rect x="946.62" y="1057.78" width="29.06" height="27.73" fill="#b2c0b3"/>
<rect x="975.38" y="1057.78" width="29.06" height="27.73" fill="#c1cdc2"/>
<rect x="1004.14" y="1057.78" width="29.06" height="27.73" fill="#d3dcd4"/>
<rect x="1032.90" y="1057.78" width="29.06" height="27.73" fill="#fafbfa"/>
<rect x="1061.66" y="1057.78" width="29.06" height="27.73" fill="#ffffff"/>
<rect x="1090.42" y="1057.78" width="29.06" height="27.73" fill="#fbf3ee"/>
<rect x="1119.18" y="1057.78" width="29.06" height="27.73" fill="#faf0ea"/>
<rect x="1147.94" y="1057.78" width="29.06" height="27.73" fill="#dd9765"/>
<rect x="1176.70" y="1057.78" width="29.06" height="27.73" fill="#e7b693"/>
<rect x="1205.46" y="1057.78" width="29.06" height="27.73" fill="#ebc5a8"/>
<rect x="1234.22" y="1057.78" width="29.06" height="27.73" fill="#f3dfd0"/>
<rect x="1262.98" y="1057.78" width="29.06" height="27.73" fill="#f0d4be"/>
<rect x="889.10" y="1085.21" width="29.06" height="27.73" fill="#6e8d73"/>
<rect x="917.86" y="1085.21" width="29.06" height="27.73" fill="#bbc8bc"/>
<rect x="946.62" y="1085.21" width="29.06" height="27.73" fill="#bbc8bc"/>
<rect x="975.38" y="1085.21" width="29.06" height="27.73" fill="#d3dcd4"/>
<rect x="1004.14" y="1085.21" width="29.06" height="27.73" fill="#dbe2db"/>
<rect x="1032.90" y="1085.21" width="29.06" height="27.73" fill="#f5f7f5"/>
<rect x="1061.66" y="1085.21" width="29.06" height="27.73" fill="#ffffff"/>
<rect x="1090.42" y="1085.21" width="29.06" height="27.73" fill="#fcf6f2"/>
<rect x="1119.18" y="1085.21" width="29.06" height="27.73" fill="#fefcfb"/>
<rect x="1147.94" y="1085.21" width="29.06" height="27.73" fill="#e1a377"/>
<rect x="1176.70" y="1085.21" width="29.06" height="27.73" fill="#e2a77c"/>
<rect x="1205.46" y="1085.21" width="29.06" height="27.73" fill="#edcbb1"/>
<rect x="1234.22" y="1085.21" width="29.06" height="27.73" fill="#f4e2d5"/>
<rect x="1262.98" y="1085.21" width="29.06" height="27.73" fill="#f2dccc"/>
<rect x="889.10" y="1112.64" width="29.06" height="27.73" fill="#66876c"/>
<rect x="917.86" y="1112.64" width="29.06" height="27.73" fill="#b8c6b9"/>
<rect x="946.62" y="1112.64" width="29.06" height="27.73" fill="#b5c3b6"/>
<rect x="975.38" y="1112.64" width="29.06" height="27.73" fill="#cdd7ce"/>
<rect x="1004.14" y="1112.64" width="29.06" height="27.73" fill="#d7dfd8"/>
<rect x="1032.90" y="1112.64" width="29.06" height="27.73" fill="#f5f7f5"/>
<rect x="1061.66" y="1112.64" width="29.06" height="27.73" fill="#ffffff"/>
<rect x="1090.42" y="1112.64" width="29.06" height="27.73" fill="#fbf3ee"/>
<rect x="1119.18" y="1112.64" width="29.06" height="27.73" fill="#fbf3ee"/>
<rect x="1147.94" y="1112.64" width="29.06" height="27.73" fill="#de9a69"/>
<rect x="1176.70" y="1112.64" width="29.06" height="27.73" fill="#df9d6e"/>
<rect x="1205.46" y="1112.64" width="29.06" height="27.73" fill="#eeceb6"/>
<rect x="1234.22" y="1112.64" width="29.06" height="27.73" fill="#f4e2d5"/>
<rect x="1262.98" y="1112.64" width="29.06" height="27.73" fill="#f1d9c8"/>
<rect x="889.10" y="1140.07" width="29.06" height="27.73" fill="#66876c"/>
<rect x="917.86" y="1140.07" width="29.06" height="27.73" fill="#bbc8bc"/>
<rect x="946.62" y="1140.07" width="29.06" height="27.73" fill="#b8c6b9"/>
<rect x="975.38" y="1140.07" width="29.06" height="27.73" fill="#d7dfd8"/>
<rect x="1004.14" y="1140.07" width="29.06" height="27.73" fill="#d7dfd8"/>
<rect x="1032.90" y="1140.07" width="29.06" height="27.73" fill="#fafbfa"/>
<rect x="1061.66" y="1140.07" width="29.06" height="27.73" fill="#ffffff"/>
<rect x="1090.42" y="1140.07" width="29.06" height="27.73" fill="#fbf3ee"/>
<rect x="1119.18" y="1140.07" width="29.06" height="27.73" fill="#fdf9f7"/>
<rect x="1147.94" y="1140.07" width="29.06" height="27.73" fill="#df9d6e"/>
<rect x="1176.70" y="1140.07" width="29.06" height="27.73" fill="#eac2a3"/>
<rect x="1205.46" y="1140.07" width="29.06" height="27.73" fill="#ebc5a8"/>
<rect x="1234.22" y="1140.07" width="29.06" height="27.73" fill="#f4e2d5"/>
<rect x="1262.98" y="1140.07" width="29.06" height="27.73" fill="#f1d9c8"/>
<rect x="889.10" y="1167.50" width="29.06" height="27.73" fill="#6e8d73"/>
<rect x="917.86" y="1167.50" width="29.06" height="27.73" fill="#becabf"/>
<rect x="946.62" y="1167.50" width="29.06" height="27.73" fill="#bbc8bc"/>
<rect x="975.38" y="1167.50" width="29.06" height="27.73" fill="#dbe2db"/>
<rect x="1004.14" y="1167.50" width="29.06" height="27.73" fill="#d7dfd8"/>
<rect x="1032.90" y="1167.50" width="29.06" height="27.73" fill="#ffffff"/>
<rect x="1061.66" y="1167.50" width="29.06" height="27.73" fill="#ffffff"/>
<rect x="1090.42" y="1167.50" width="29.06" height="27.73" fill="#fbf3ee"/>
<rect x="1119.18" y="1167.50" width="29.06" height="27.73" fill="#fdf9f7"/>
<rect x="1147.94" y="1167.50" width="29.06" height="27.73" fill="#e0a072"/>
<rect x="1176.70" y="1167.50" width="29.06" height="27.73" fill="#e9be9e"/>
<rect x="1205.46" y="1167.50" width="29.06" height="27.73" fill="#ebc5a8"/>
<rect x="1234.22" y="1167.50" width="29.06" height="27.73" fill="#f4e2d5"/>
<rect x="1262.98" y="1167.50" width="29.06" height="27.73" fill="#f0d6c3"/>
<rect x="889.10" y="1194.93" width="29.06" height="27.73" fill="#6e8d73"/>
<rect x="917.86" y="1194.93" width="29.06" height="27.73" fill="#becabf"/>
<rect x="946.62" y="1194.93" width="29.06" height="27.73" fill="#bbc8bc"/>
<rect x="975.38" y="1194.93" width="29.06" height="27.73" fill="#dbe2db"/>
<rect x="1004.14" y="1194.93" width="29.06" height="27.73" fill="#d7dfd8"/>
<rect x="1032.90" y="1194.93" width="29.06" height="27.73" fill="#fafbfa"/>
<rect x="1061.66" y="1194.93" width="29.06" height="27.73" fill="#ffffff"/>
<rect x="1090.42" y="1194.93" width="29.06" height="27.73" fill="#faf0ea"/>
<rect x="1119.18" y="1194.93" width="29.06" height="27.73" fill="#fcf6f2"/>
<rect x="1147.94" y="1194.93" width="29.06" height="27.73" fill="#e0a072"/>
<rect x="1176.70" y="1194.93" width="29.06" height="27.73" fill="#e9be9e"/>
<rect x="1205.46" y="1194.93" width="29.06" height="27.73" fill="#ebc5a8"/>
<rect x="1234.22" y="1194.93" width="29.06" height="27.73" fill="#f4e2d5"/>
<rect x="1262.98" y="1194.93" width="29.06" height="27.73" fill="#f0d6c3"/>
<rect x="889.10" y="1222.36" width="29.06" height="27.73" fill="#6e8d73"/>
<rect x="917.86" y="1222.36" width="29.06" height="27.73" fill="#becabf"/>
<rect x="946.62" y="1222.36" width="29.06" height="27.73" fill="#bbc8bc"/>
<rect x="975.38" y="1222.36" width="29.06" height="27.73" fill="#d7dfd8"/>
<rect x="1004.14" y="1222.36" width="29.06" height="27.73" fill="#d7dfd8"/>
<rect x="1032.90" y="1222.36" width="29.06" height="27.73" fill="#fafbfa"/>
<rect x="1061.66" y="1222.36" width="29.06" height="27.73" fill="#fcfdfc"/>
<rect x="1090.42" y="1222.36" width="29.06" height="27.73" fill="#faf0ea"/>
<rect x="1119.18" y="1222.36" width="29.06" height="27.73" fill="#fdf9f7"/>
<rect x="1147.94" y="1222.36" width="29.06" height="27.73" fill="#e0a072"/>
<rect x="1176.70" y="1222.36" width="29.06" height="27.73" fill="#e9be9e"/>
<rect x="1205.46" y="1222.36" width="29.06" height="27.73" fill="#e9be9e"/>
<rect x="1234.22" y="1222.36" width="29.06" height="27.73" fill="#f4e2d5"/>
<rect x="1262.98" y="1222.36" width="29.06" height="27.73" fill="#f0d4be"/>
<rect x="889.10" y="1249.79" width="29.06" height="27.73" fill="#66876c"/>
<rect x="917.86" y="1249.79" width="29.06" height="27.73" fill="#b5c3b6"/>
<rect x="946.62" y="1249.79" width="29.06" height="27.73" fill="#b2c0b3"/>
<rect x="975.38" y="1249.79" width="29.06" height="27.73" fill="#cad4cb"/>
<rect x="1004.14" y="1249.79" width="29.06" height="27.73" fill="#d3dcd4"/>
<rect x="1032.90" y="1249.79" width="29.06" height="27.73" fill="#fafbfa"/>
<rect x="1061.66" y="1249.79" width="29.06" height="27.73" fill="#fcfdfc"/>
<rect x="1090.42" y="1249.79" width="29.06" height="27.73" fill="#fbf3ee"/>
<rect x="1119.18" y="1249.79" width="29.06" height="27.73" fill="#fbf3ee"/>
<rect x="1147.94" y="1249.79" width="29.06" height="27.73" fill="#de9a69"/>
<rect x="1176.70" y="1249.79" width="29.06" height="27.73" fill="#e9be9e"/>
<rect x="1205.46" y="1249.79" width="29.06" height="27.73" fill="#e7b794"/>
<rect x="1234.22" y="1249.79" width="29.06" height="27.73" fill="#f3dfd0"/>
<rect x="1262.98" y="1249.79" width="29.06" height="27.73" fill="#efd1ba"/>
<rect x="889.10" y="1277.22" width="29.06" height="27.73" fill="#66876c"/>
<rect x="917.86" y="1277.22" width="29.06" height="27.73" fill="#b5c3b6"/>
<rect x="946.62" y="1277.22" width="29.06" height="27.73" fill="#afbeb0"/>
<rect x="975.38" y="1277.22" width="29.06" height="27.73" fill="#c1cdc2"/>
<rect x="1004.14" y="1277.22" width="29.06" height="27.73" fill="#d0dad1"/>
<rect x="1032.90" y="1277.22" width="29.06" height="27.73" fill="#fafbfa"/>
<rect x="1061.66" y="1277.22" width="29.06" height="27.73" fill="#ffffff"/>
<rect x="1090.42" y="1277.22" width="29.06" height="27.73" fill="#fbf3ee"/>
<rect x="1119.18" y="1277.22" width="29.06" height="27.73" fill="#fcf6f2"/>
<rect x="1147.94" y="1277.22" width="29.06" height="27.73" fill="#dc9461"/>
<rect x="1176.70" y="1277.22" width="29.06" height="27.73" fill="#e9be9e"/>
<rect x="1205.46" y="1277.22" width="29.06" height="27.73" fill="#e6b48e"/>
<rect x="1234.22" y="1277.22" width="29.06" height="27.73" fill="#f3dfd0"/>
<rect x="1262.98" y="1277.22" width="29.06" height="27.73" fill="#eeceb6"/>
<rect x="889.10" y="1304.65" width="29.06" height="27.73" fill="#55795b"/>
<rect x="917.86" y="1304.65" width="29.06" height="27.73" fill="#b2c0b3"/>
<rect x="946.62" y="1304.65" width="29.06" height="27.73" fill="#a8b9aa"/>
<rect x="975.38" y="1304.65" width="29.06" height="27.73" fill="#abbcad"/>
<rect x="1004.14" y="1304.65" width="29.06" height="27.73" fill="#cdd7ce"/>
<rect x="1032.90" y="1304.65" width="29.06" height="27.73" fill="#f5f7f5"/>
<rect x="1061.66" y="1304.65" width="29.06" height="27.73" fill="#ffffff"/>
<rect x="1090.42" y="1304.65" width="29.06" height="27.73" fill="#faf0ea"/>
<rect x="1119.18" y="1304.65" width="29.06" height="27.73" fill="#f7ebe2"/>
<rect x="1147.94" y="1304.65" width="29.06" height="27.73" fill="#d6854c"/>
<rect x="1176.70" y="1304.65" width="29.06" height="27.73" fill="#dd9765"/>
<rect x="1205.46" y="1304.65" width="29.06" height="27.73" fill="#e8ba99"/>
<rect x="1234.22" y="1304.65" width="29.06" height="27.73" fill="#f3dfd0"/>
<rect x="1262.98" y="1304.65" width="29.06" height="27.73" fill="#f0d4be"/>
<rect x="889.10" y="1332.08" width="29.06" height="27.73" fill="#608265"/>
<rect x="917.86" y="1332.08" width="29.06" height="27.73" fill="#b2c0b3"/>
<rect x="946.62" y="1332.08" width="29.06" height="27.73" fill="#afbeb0"/>
<rect x="975.38" y="1332.08" width="29.06" height="27.73" fill="#abbcad"/>
<rect x="1004.14" y="1332.08" width="29.06" height="27.73" fill="#cdd7ce"/>
<rect x="1032.90" y="1332.08" width="29.06" height="27.73" fill="#f5f7f5"/>
<rect x="1061.66" y="1332.08" width="29.06" height="27.73" fill="#ffffff"/>
<rect x="1090.42" y="1332.08" width="29.06" height="27.73" fill="#faf0ea"/>
<rect x="1119.18" y="1332.08" width="29.06" height="27.73" fill="#f8eee6"/>
<rect x="1147.94" y="1332.08" width="29.06" height="27.73" fill="#d88b54"/>
<rect x="1176.70" y="1332.08" width="29.06" height="27.73" fill="#da8e58"/>
<rect x="1205.46" y="1332.08" width="29.06" height="27.73" fill="#e9be9e"/>
<rect x="1234.22" y="1332.08" width="29.06" height="27.73" fill="#f3dfd0"/>
<rect x="1262.98" y="1332.08" width="29.06" height="27.73" fill="#efd1ba"/>
<rect x="889.10" y="1359.51" width="29.06" height="27.73" fill="#527657"/>
<rect x="917.86" y="1359.51" width="29.06" height="27.73" fill="#b2c0b3"/>
<rect x="946.62" y="1359.51" width="29.06" height="27.73" fill="#b2c0b3"/>
<rect x="975.38" y="1359.51" width="29.06" height="27.73" fill="#a8b9aa"/>
<rect x="1004.14" y="1359.51" width="29.06" height="27.73" fill="#cdd7ce"/>
<rect x="1032.90" y="1359.51" width="29.06" height="27.73" fill="#f5f7f5"/>
<rect x="1061.66" y="1359.51" width="29.06" height="27.73" fill="#fafbfa"/>
<rect x="1090.42" y="1359.51" width="29.06" height="27.73" fill="#fcf6f2"/>
<rect x="1119.18" y="1359.51" width="29.06" height="27.73" fill="#f6e8dd"/>
<rect x="1147.94" y="1359.51" width="29.06" height="27.73" fill="#d6854c"/>
<rect x="1176.70" y="1359.51" width="29.06" height="27.73" fill="#d6854c"/>
<rect x="1205.46" y="1359.51" width="29.06" height="27.73" fill="#eac2a3"/>
<rect x="1234.22" y="1359.51" width="29.06" height="27.73" fill="#f3dfd0"/>
<rect x="1262.98" y="1359.51" width="29.06" height="27.73" fill="#efd1ba"/>
<rect x="889.10" y="1386.94" width="29.06" height="27.73" fill="#5c7f62"/>
<rect x="917.86" y="1386.94" width="29.06" height="27.73" fill="#b2c0b3"/>
<rect x="946.62" y="1386.94" width="29.06" height="27.73" fill="#afbeb0"/>
<rect x="975.38" y="1386.94" width="29.06" height="27.73" fill="#afbeb0"/>
<rect x="1004.14" y="1386.94" width="29.06" height="27.73" fill="#cdd7ce"/>
<rect x="1032.90" y="1386.94" width="29.06" height="27.73" fill="#fafbfa"/>
<rect x="1061.66" y="1386.94" width="29.06" height="27.73" fill="#ffffff"/>
<rect x="1090.42" y="1386.94" width="29.06" height="27.73" fill="#faf0ea"/>
<rect x="1119.18" y="1386.94" width="29.06" height="27.73" fill="#f8eee6"/>
<rect x="1147.94" y="1386.94" width="29.06" height="27.73" fill="#d88b54"/>
<rect x="1176.70" y="1386.94" width="29.06" height="27.73" fill="#e0a072"/>
<rect x="1205.46" y="1386.94" width="29.06" height="27.73" fill="#e7b794"/>
<rect x="1234.22" y="1386.94" width="29.06" height="27.73" fill="#f3dfd0"/>
<rect x="1262.98" y="1386.94" width="29.06" height="27.73" fill="#eeceb6"/>
<rect x="889.10" y="1414.37" width="29.06" height="27.73" fill="#a8b9aa"/>
<rect x="917.86" y="1414.37" width="29.06" height="27.73" fill="#dbe2db"/>
<rect x="946.62" y="1414.37" width="29.06" height="27.73" fill="#dbe2db"/>
<rect x="975.38" y="1414.37" width="29.06" height="27.73" fill="#b8c6b9"/>
<rect x="1004.14" y="1414.37" width="29.06" height="27.73" fill="#dbe2db"/>
<rect x="1032.90" y="1414.37" width="29.06" height="27.73" fill="#fafbfa"/>
<rect x="1061.66" y="1414.37" width="29.06" height="27.73" fill="#fafbfa"/>
<rect x="1090.42" y="1414.37" width="29.06" height="27.73" fill="#ffffff"/>
<rect x="1119.18" y="1414.37" width="29.06" height="27.73" fill="#f7ebe2"/>
<rect x="1147.94" y="1414.37" width="29.06" height="27.73" fill="#e9be9e"/>
<rect x="1176.70" y="1414.37" width="29.06" height="27.73" fill="#dc9461"/>
<rect x="1205.46" y="1414.37" width="29.06" height="27.73" fill="#f6e8dd"/>
<rect x="1234.22" y="1414.37" width="29.06" height="27.73" fill="#fcf6f2"/>
<rect x="1262.98" y="1414.37" width="29.06" height="27.73" fill="#f8eee6"/>
<rect x="889.10" y="1441.80" width="29.06" height="27.73" fill="#527657"/>
<rect x="917.86" y="1441.80" width="29.06" height="27.73" fill="#a8b9aa"/>
<rect x="946.62" y="1441.80" width="29.06" height="27.73" fill="#a5b6a7"/>
<rect x="975.38" y="1441.80" width="29.06" height="27.73" fill="#a5b6a7"/>
<rect x="1004.14" y="1441.80" width="29.06" height="27.73" fill="#cad4cb"/>
<rect x="1032.90" y="1441.80" width="29.06" height="27.73" fill="#fafbfa"/>
<rect x="1061.66" y="1441.80" width="29.06" height="27.73" fill="#ffffff"/>
<rect x="1090.42" y="1441.80" width="29.06" height="27.73" fill="#fdf9f7"/>
<rect x="1119.18" y="1441.80" width="29.06" height="27.73" fill="#f6e8dd"/>
<rect x="1147.94" y="1441.80" width="29.06" height="27.73" fill="#d68249"/>
<rect x="1176.70" y="1441.80" width="29.06" height="27.73" fill="#d78850"/>
<rect x="1205.46" y="1441.80" width="29.06" height="27.73" fill="#e6b48e"/>
<rect x="1234.22" y="1441.80" width="29.06" height="27.73" fill="#f3dfd0"/>
<rect x="1262.98" y="1441.80" width="29.06" height="27.73" fill="#edcbb1"/>
<rect x="889.10" y="1469.23" width="29.06" height="27.73" fill="#b5c3b6"/>
<rect x="917.86" y="1469.23" width="29.06" height="27.73" fill="#dbe2db"/>
<rect x="946.62" y="1469.23" width="29.06" height="27.73" fill="#d7dfd8"/>
<rect x="975.38" y="1469.23" width="29.06" height="27.73" fill="#d3dcd4"/>
<rect x="1004.14" y="1469.23" width="29.06" height="27.73" fill="#e2e8e2"/>
<rect x="1032.90" y="1469.23" width="29.06" height="27.73" fill="#ffffff"/>
<rect x="1061.66" y="1469.23" width="29.06" height="27.73" fill="#ffffff"/>
<rect x="1090.42" y="1469.23" width="29.06" height="27.73" fill="#ffffff"/>
<rect x="1119.18" y="1469.23" width="29.06" height="27.73" fill="#fcf6f2"/>
<rect x="1147.94" y="1469.23" width="29.06" height="27.73" fill="#edccb3"/>
<rect x="1176.70" y="1469.23" width="29.06" height="27.73" fill="#e0a072"/>
<rect x="1205.46" y="1469.23" width="29.06" height="27.73" fill="#f8eee6"/>
<rect x="1234.22" y="1469.23" width="29.06" height="27.73" fill="#fcf6f2"/>
<rect x="1262.98" y="1469.23" width="29.06" height="27.73" fill="#f6e8dd"/>
<rect x="889.10" y="1496.66" width="29.06" height="27.73" fill="#fbf3ee"/>
<rect x="917.86" y="1496.66" width="29.06" height="27.73" fill="#fafbfa"/>
<rect x="946.62" y="1496.66" width="29.06" height="27.73" fill="#ffffff"/>
<rect x="975.38" y="1496.66" width="29.06" height="27.73" fill="#fafbfa"/>
<rect x="1004.14" y="1496.66" width="29.06" height="27.73" fill="#ffffff"/>
<rect x="1032.90" y="1496.66" width="29.06" height="27.73" fill="#ffffff"/>
<rect x="1061.66" y="1496.66" width="29.06" height="27.73" fill="#fdf9f7"/>
<rect x="1090.42" y="1496.66" width="29.06" height="27.73" fill="#ffffff"/>
<rect x="1119.18" y="1496.66" width="29.06" height="27.73" fill="#fdf9f7"/>
<rect x="1147.94" y="1496.66" width="29.06" height="27.73" fill="#ffffff"/>
<rect x="1176.70" y="1496.66" width="29.06" height="27.73" fill="#e2e8e2"/>
<rect x="1205.46" y="1496.66" width="29.06" height="27.73" fill="#fcf6f2"/>
<rect x="1234.22" y="1496.66" width="29.06" height="27.73" fill="#ffffff"/>
<rect x="1262.98" y="1496.66" width="29.06" height="27.73" fill="#ffffff"/>
<rect x="889.10" y="1524.09" width="29.06" height="27.73" fill="#f0d4be"/>
<rect x="917.86" y="1524.09" width="29.06" height="27.73" fill="#fafbfa"/>
<rect x="946.62" y="1524.09" width="29.06" height="27.73" fill="#ffffff"/>
<rect x="975.38" y="1524.09" width="29.06" height="27.73" fill="#f5e5d9"/>
<rect x="1004.14" y="1524.09" width="29.06" height="27.73" fill="#fbf3ee"/>
<rect x="1032.90" y="1524.09" width="29.06" height="27.73" fill="#fbf3ee"/>
<rect x="1061.66" y="1524.09" width="29.06" height="27.73" fill="#f8eee6"/>
<rect x="1090.42" y="1524.09" width="29.06" height="27.73" fill="#ffffff"/>
<rect x="1119.18" y="1524.09" width="29.06" height="27.73" fill="#e2e8e2"/>
<rect x="1147.94" y="1524.09" width="29.06" height="27.73" fill="#dee5df"/>
<rect x="1176.70" y="1524.09" width="29.06" height="27.73" fill="#c7d2c8"/>
<rect x="1205.46" y="1524.09" width="29.06" height="27.73" fill="#fafbfa"/>
<rect x="1234.22" y="1524.09" width="29.06" height="27.73" fill="#fafbfa"/>
<rect x="1262.98" y="1524.09" width="29.06" height="27.73" fill="#ffffff"/>
<rect x="889.10" y="1551.52" width="29.06" height="27.73" fill="#f5e5d9"/>
<rect x="917.86" y="1551.52" width="29.06" height="27.73" fill="#fdf9f7"/>
<rect x="946.62" y="1551.52" width="29.06" height="27.73" fill="#fbf3ee"/>
<rect x="975.38" y="1551.52" width="29.06" height="27.73" fill="#f1d9c8"/>
<rect x="1004.14" y="1551.52" width="29.06" height="27.73" fill="#ffffff"/>
<rect x="1032.90" y="1551.52" width="29.06" height="27.73" fill="#faf0ea"/>
<rect x="1061.66" y="1551.52" width="29.06" height="27.73" fill="#fcf6f2"/>
<rect x="1090.42" y="1551.52" width="29.06" height="27.73" fill="#fafbfa"/>
<rect x="1119.18" y="1551.52" width="29.06" height="27.73" fill="#f0f3f0"/>
<rect x="1147.94" y="1551.52" width="29.06" height="27.73" fill="#e2e8e2"/>
<rect x="1176.70" y="1551.52" width="29.06" height="27.73" fill="#98ac9b"/>
<rect x="1205.46" y="1551.52" width="29.06" height="27.73" fill="#ffffff"/>
<rect x="1234.22" y="1551.52" width="29.06" height="27.73" fill="#fbf3ee"/>
<rect x="1262.98" y="1551.52" width="29.06" height="27.73" fill="#ffffff"/>
<rect x="889.10" y="1578.95" width="29.06" height="27.73" fill="#f1d9c8"/>
<rect x="917.86" y="1578.95" width="29.06" height="27.73" fill="#fefcfb"/>
<rect x="946.62" y="1578.95" width="29.06" height="27.73" fill="#fdf9f7"/>
<rect x="975.38" y="1578.95" width="29.06" height="27.73" fill="#dee5df"/>
<rect x="1004.14" y="1578.95" width="29.06" height="27.73" fill="#fbf3ee"/>
<rect x="1032.90" y="1578.95" width="29.06" height="27.73" fill="#faf0ea"/>
<rect x="1061.66" y="1578.95" width="29.06" height="27.73" fill="#f8eee6"/>
<rect x="1090.42" y="1578.95" width="29.06" height="27.73" fill="#fefcfb"/>
<rect x="1119.18" y="1578.95" width="29.06" height="27.73" fill="#f5f7f5"/>
<rect x="1147.94" y="1578.95" width="29.06" height="27.73" fill="#e2e8e2"/>
<rect x="1176.70" y="1578.95" width="29.06" height="27.73" fill="#becabf"/>
<rect x="1205.46" y="1578.95" width="29.06" height="27.73" fill="#ffffff"/>
<rect x="1234.22" y="1578.95" width="29.06" height="27.73" fill="#fafbfa"/>
<rect x="1262.98" y="1578.95" width="29.06" height="27.73" fill="#ffffff"/>
<rect x="889.10" y="1606.38" width="29.06" height="27.73" fill="#d57f46"/>
<rect x="917.86" y="1606.38" width="29.06" height="27.73" fill="#ecc8ac"/>
<rect x="946.62" y="1606.38" width="29.06" height="27.73" fill="#eac2a3"/>
<rect x="975.38" y="1606.38" width="29.06" height="27.73" fill="#f1d9c8"/>
<rect x="1004.14" y="1606.38" width="29.06" height="27.73" fill="#f2dccc"/>
<rect x="1032.90" y="1606.38" width="29.06" height="27.73" fill="#fefcfb"/>
<rect x="1061.66" y="1606.38" width="29.06" height="27.73" fill="#fafbfa"/>
<rect x="1090.42" y="1606.38" width="29.06" height="27.73" fill="#ebefeb"/>
<rect x="1119.18" y="1606.38" width="29.06" height="27.73" fill="#fafbfa"/>
<rect x="1147.94" y="1606.38" width="29.06" height="27.73" fill="#91a795"/>
<rect x="1176.70" y="1606.38" width="29.06" height="27.73" fill="#becabf"/>
<rect x="1205.46" y="1606.38" width="29.06" height="27.73" fill="#a5b6a7"/>
<rect x="1234.22" y="1606.38" width="29.06" height="27.73" fill="#cad4cb"/>
<rect x="1262.98" y="1606.38" width="29.06" height="27.73" fill="#c4d0c5"/>
<rect x="889.10" y="1633.81" width="29.06" height="27.73" fill="#f3dfd0"/>
<rect x="917.86" y="1633.81" width="29.06" height="27.73" fill="#faf0ea"/>
<rect x="946.62" y="1633.81" width="29.06" height="27.73" fill="#fbf3ee"/>
<rect x="975.38" y="1633.81" width="29.06" height="27.73" fill="#f1d9c8"/>
<rect x="1004.14" y="1633.81" width="29.06" height="27.73" fill="#fbf3ee"/>
<rect x="1032.90" y="1633.81" width="29.06" height="27.73" fill="#ffffff"/>
<rect x="1061.66" y="1633.81" width="29.06" height="27.73" fill="#fafbfa"/>
<rect x="1090.42" y="1633.81" width="29.06" height="27.73" fill="#ffffff"/>
<rect x="1119.18" y="1633.81" width="29.06" height="27.73" fill="#f0f3f0"/>
<rect x="1147.94" y="1633.81" width="29.06" height="27.73" fill="#cdd7ce"/>
<rect x="1176.70" y="1633.81" width="29.06" height="27.73" fill="#d0dad1"/>
<rect x="1205.46" y="1633.81" width="29.06" height="27.73" fill="#dee5df"/>
<rect x="1234.22" y="1633.81" width="29.06" height="27.73" fill="#fafbfa"/>
<rect x="1262.98" y="1633.81" width="29.06" height="27.73" fill="#f0f3f0"/>
<path d="M917.86 893.20V1661.24M946.62 893.20V1661.24M975.38 893.20V1661.24M1004.14 893.20V1661.24M1032.90 893.20V1661.24M1061.66 893.20V1661.24M1090.42 893.20V1661.24M1119.18 893.20V1661.24M1147.94 893.20V1661.24M1176.70 893.20V1661.24M1205.46 893.20V1661.24M1234.22 893.20V1661.24M1262.98 893.20V1661.24M889.10 920.63H1291.74M889.10 948.06H1291.74M889.10 975.49H1291.74M889.10 1002.92H1291.74M889.10 1030.35H1291.74M889.10 1057.78H1291.74M889.10 1085.21H1291.74M889.10 1112.64H1291.74M889.10 1140.07H1291.74M889.10 1167.50H1291.74M889.10 1194.93H1291.74M889.10 1222.36H1291.74M889.10 1249.79H1291.74M889.10 1277.22H1291.74M889.10 1304.65H1291.74M889.10 1332.08H1291.74M889.10 1359.51H1291.74M889.10 1386.94H1291.74M889.10 1414.37H1291.74M889.10 1441.80H1291.74M889.10 1469.23H1291.74M889.10 1496.66H1291.74M889.10 1524.09H1291.74M889.10 1551.52H1291.74M889.10 1578.95H1291.74M889.10 1606.38H1291.74M889.10 1633.81H1291.74" stroke="#bfbfbf" stroke-width="1.8" fill="none"/>
<rect x="889.10" y="893.20" width="402.64" height="768.04" stroke="#bdbdbd" stroke-width="2" fill="none"/>
<path d="M964.2 855.2V833.4H1209.3V873.9 M903.5 893.2V855.2H1024.2V872.1 M993.7 885.5V872.1H1090.4V885.6 M968.6 886.2V885.3H1018.5V893.2 M947.5 891.7V886.2H989.8V893.2 M932.2 893.2V891.7H961.0V893.2 M1062.5 890V885.6H1119.3V887.6 M1047.3 893.2V890H1076.0V893.2 M1104.8 893.2V887.6H1133.6V893.2 M1177 883.1V873.9H1241.4V882.1 M1162.3 893.2V883.1H1191.1V893.2 M1219.8 893.2V882.1H1262.9V886.8 M1248.6 893.2V886.8H1277.4V893.2" stroke="#000" stroke-width="2.4" fill="none" stroke-linecap="square"/>
<path d="M903.5 1660.0V1670.0M932.2 1660.0V1670.0M961.0 1660.0V1670.0M989.8 1660.0V1670.0M1018.5 1660.0V1670.0M1047.3 1660.0V1670.0M1076.0 1660.0V1670.0M1104.8 1660.0V1670.0M1133.6 1660.0V1670.0M1162.3 1660.0V1670.0M1191.1 1660.0V1670.0M1219.8 1660.0V1670.0M1248.6 1660.0V1670.0M1277.4 1660.0V1670.0" stroke="#000" stroke-width="2.0"/>
<text x="0" y="0" font-size="22.5" transform="translate(890.5,1688.5) rotate(45)">122</text>
<text x="0" y="0" font-size="22.5" transform="translate(919.2,1688.5) rotate(45)">09</text>
<text x="0" y="0" font-size="22.5" transform="translate(948.0,1688.5) rotate(45)">113</text>
<text x="0" y="0" font-size="22.5" transform="translate(976.8,1688.5) rotate(45)">03</text>
<text x="0" y="0" font-size="22.5" transform="translate(1005.5,1688.5) rotate(45)">12</text>
<text x="0" y="0" font-size="22.5" transform="translate(1034.3,1688.5) rotate(45)">05</text>
<text x="0" y="0" font-size="22.5" transform="translate(1063.0,1688.5) rotate(45)">14</text>
<text x="0" y="0" font-size="22.5" transform="translate(1091.8,1688.5) rotate(45)">114</text>
<text x="0" y="0" font-size="22.5" transform="translate(1120.6,1688.5) rotate(45)">123</text>
<text x="0" y="0" font-size="22.5" transform="translate(1149.3,1688.5) rotate(45)">02</text>
<text x="0" y="0" font-size="22.5" transform="translate(1178.1,1688.5) rotate(45)">06</text>
<text x="0" y="0" font-size="22.5" transform="translate(1206.8,1688.5) rotate(45)">110</text>
<text x="0" y="0" font-size="22.5" transform="translate(1235.6,1688.5) rotate(45)">11</text>
<text x="0" y="0" font-size="22.5" transform="translate(1264.4,1688.5) rotate(45)">13</text>
<text x="1086.9" y="1740.0" font-size="24.6" text-anchor="middle">Participant ID</text>
<text x="1336.0" y="23.5" font-size="36" text-anchor="start" font-weight="bold">c</text>
<text x="1368.0" y="23.0" font-size="24.95" text-anchor="start" font-weight="bold">Glucose Metabolism − 4-fibre snack</text>
<rect x="1412.30" y="101.50" width="37.77" height="28.96" fill="#a2899c"/>
<rect x="1449.77" y="101.50" width="37.77" height="28.96" fill="#633a58"/>
<rect x="1487.24" y="101.50" width="37.77" height="28.96" fill="#633a58"/>
<rect x="1524.71" y="101.50" width="37.77" height="28.96" fill="#a2899c"/>
<rect x="1562.18" y="101.50" width="37.77" height="28.96" fill="#ddd6db"/>
<rect x="1599.65" y="101.50" width="37.77" height="28.96" fill="#c7b9c4"/>
<rect x="1637.12" y="101.50" width="37.77" height="28.96" fill="#ffffff"/>
<rect x="1674.59" y="101.50" width="37.77" height="28.96" fill="#776127"/>
<rect x="1712.06" y="101.50" width="37.77" height="28.96" fill="#a88a30"/>
<rect x="1749.53" y="101.50" width="37.77" height="28.96" fill="#d6b232"/>
<rect x="1787.00" y="101.50" width="37.77" height="28.96" fill="#d9b63a"/>
<rect x="1824.47" y="101.50" width="37.77" height="28.96" fill="#e4c75c"/>
<rect x="1861.94" y="101.50" width="37.77" height="28.96" fill="#e6cb68"/>
<rect x="1899.41" y="101.50" width="37.77" height="28.96" fill="#eedb96"/>
<rect x="1412.30" y="130.16" width="37.77" height="28.96" fill="#633a58"/>
<rect x="1449.77" y="130.16" width="37.77" height="28.96" fill="#633a58"/>
<rect x="1487.24" y="130.16" width="37.77" height="28.96" fill="#633a58"/>
<rect x="1524.71" y="130.16" width="37.77" height="28.96" fill="#8d7085"/>
<rect x="1562.18" y="130.16" width="37.77" height="28.96" fill="#ddd6db"/>
<rect x="1599.65" y="130.16" width="37.77" height="28.96" fill="#b09aab"/>
<rect x="1637.12" y="130.16" width="37.77" height="28.96" fill="#faf9fa"/>
<rect x="1674.59" y="130.16" width="37.77" height="28.96" fill="#776127"/>
<rect x="1712.06" y="130.16" width="37.77" height="28.96" fill="#a88a30"/>
<rect x="1749.53" y="130.16" width="37.77" height="28.96" fill="#ba9a31"/>
<rect x="1787.00" y="130.16" width="37.77" height="28.96" fill="#d6b232"/>
<rect x="1824.47" y="130.16" width="37.77" height="28.96" fill="#e4c75c"/>
<rect x="1861.94" y="130.16" width="37.77" height="28.96" fill="#e1c354"/>
<rect x="1899.41" y="130.16" width="37.77" height="28.96" fill="#eedb96"/>
<rect x="1412.30" y="158.82" width="37.77" height="28.96" fill="#633a58"/>
<rect x="1449.77" y="158.82" width="37.77" height="28.96" fill="#603756"/>
<rect x="1487.24" y="158.82" width="37.77" height="28.96" fill="#5b3053"/>
<rect x="1524.71" y="158.82" width="37.77" height="28.96" fill="#88697f"/>
<rect x="1562.18" y="158.82" width="37.77" height="28.96" fill="#c7b9c4"/>
<rect x="1599.65" y="158.82" width="37.77" height="28.96" fill="#b09aab"/>
<rect x="1637.12" y="158.82" width="37.77" height="28.96" fill="#ffffff"/>
<rect x="1674.59" y="158.82" width="37.77" height="28.96" fill="#776127"/>
<rect x="1712.06" y="158.82" width="37.77" height="28.96" fill="#a88a30"/>
<rect x="1749.53" y="158.82" width="37.77" height="28.96" fill="#a88a30"/>
<rect x="1787.00" y="158.82" width="37.77" height="28.96" fill="#cdaa32"/>
<rect x="1824.47" y="158.82" width="37.77" height="28.96" fill="#e4c75c"/>
<rect x="1861.94" y="158.82" width="37.77" height="28.96" fill="#e1c354"/>
<rect x="1899.41" y="158.82" width="37.77" height="28.96" fill="#eedb96"/>
<rect x="1412.30" y="187.48" width="37.77" height="28.96" fill="#6f4864"/>
<rect x="1449.77" y="187.48" width="37.77" height="28.96" fill="#a992a3"/>
<rect x="1487.24" y="187.48" width="37.77" height="28.96" fill="#e3dde2"/>
<rect x="1524.71" y="187.48" width="37.77" height="28.96" fill="#cfc4cd"/>
<rect x="1562.18" y="187.48" width="37.77" height="28.96" fill="#a992a3"/>
<rect x="1599.65" y="187.48" width="37.77" height="28.96" fill="#d7ced5"/>
<rect x="1637.12" y="187.48" width="37.77" height="28.96" fill="#f5f3f5"/>
<rect x="1674.59" y="187.48" width="37.77" height="28.96" fill="#dcba43"/>
<rect x="1712.06" y="187.48" width="37.77" height="28.96" fill="#eedb96"/>
<rect x="1749.53" y="187.48" width="37.77" height="28.96" fill="#f0dfa3"/>
<rect x="1787.00" y="187.48" width="37.77" height="28.96" fill="#e6cb68"/>
<rect x="1824.47" y="187.48" width="37.77" height="28.96" fill="#f0dfa3"/>
<rect x="1861.94" y="187.48" width="37.77" height="28.96" fill="#f3e8be"/>
<rect x="1899.41" y="187.48" width="37.77" height="28.96" fill="#f3e8be"/>
<rect x="1412.30" y="216.14" width="37.77" height="28.96" fill="#69415e"/>
<rect x="1449.77" y="216.14" width="37.77" height="28.96" fill="#a2899c"/>
<rect x="1487.24" y="216.14" width="37.77" height="28.96" fill="#cfc4cd"/>
<rect x="1524.71" y="216.14" width="37.77" height="28.96" fill="#faf9fa"/>
<rect x="1562.18" y="216.14" width="37.77" height="28.96" fill="#ddd6db"/>
<rect x="1599.65" y="216.14" width="37.77" height="28.96" fill="#e3dde2"/>
<rect x="1637.12" y="216.14" width="37.77" height="28.96" fill="#f2e3b0"/>
<rect x="1674.59" y="216.14" width="37.77" height="28.96" fill="#d9b63a"/>
<rect x="1712.06" y="216.14" width="37.77" height="28.96" fill="#d9b63a"/>
<rect x="1749.53" y="216.14" width="37.77" height="28.96" fill="#e1c354"/>
<rect x="1787.00" y="216.14" width="37.77" height="28.96" fill="#e1c354"/>
<rect x="1824.47" y="216.14" width="37.77" height="28.96" fill="#faf6e8"/>
<rect x="1861.94" y="216.14" width="37.77" height="28.96" fill="#ead37f"/>
<rect x="1899.41" y="216.14" width="37.77" height="28.96" fill="#f5f3f5"/>
<rect x="1412.30" y="244.80" width="37.77" height="28.96" fill="#ebe7ea"/>
<rect x="1449.77" y="244.80" width="37.77" height="28.96" fill="#826179"/>
<rect x="1487.24" y="244.80" width="37.77" height="28.96" fill="#b09aab"/>
<rect x="1524.71" y="244.80" width="37.77" height="28.96" fill="#a992a3"/>
<rect x="1562.18" y="244.80" width="37.77" height="28.96" fill="#d7ced5"/>
<rect x="1599.65" y="244.80" width="37.77" height="28.96" fill="#b8a4b3"/>
<rect x="1637.12" y="244.80" width="37.77" height="28.96" fill="#faf9fa"/>
<rect x="1674.59" y="244.80" width="37.77" height="28.96" fill="#a88a30"/>
<rect x="1712.06" y="244.80" width="37.77" height="28.96" fill="#b19230"/>
<rect x="1749.53" y="244.80" width="37.77" height="28.96" fill="#e8cf73"/>
<rect x="1787.00" y="244.80" width="37.77" height="28.96" fill="#ecd78a"/>
<rect x="1824.47" y="244.80" width="37.77" height="28.96" fill="#ecd78a"/>
<rect x="1861.94" y="244.80" width="37.77" height="28.96" fill="#ecd78a"/>
<rect x="1899.41" y="244.80" width="37.77" height="28.96" fill="#ecd78a"/>
<rect x="1412.30" y="273.46" width="37.77" height="28.96" fill="#f5f3f5"/>
<rect x="1449.77" y="273.46" width="37.77" height="28.96" fill="#603756"/>
<rect x="1487.24" y="273.46" width="37.77" height="28.96" fill="#a2899c"/>
<rect x="1524.71" y="273.46" width="37.77" height="28.96" fill="#a992a3"/>
<rect x="1562.18" y="273.46" width="37.77" height="28.96" fill="#ebe7ea"/>
<rect x="1599.65" y="273.46" width="37.77" height="28.96" fill="#e3dde2"/>
<rect x="1637.12" y="273.46" width="37.77" height="28.96" fill="#e3dde2"/>
<rect x="1674.59" y="273.46" width="37.77" height="28.96" fill="#9e822e"/>
<rect x="1712.06" y="273.46" width="37.77" height="28.96" fill="#c4a231"/>
<rect x="1749.53" y="273.46" width="37.77" height="28.96" fill="#e1c354"/>
<rect x="1787.00" y="273.46" width="37.77" height="28.96" fill="#ecd78a"/>
<rect x="1824.47" y="273.46" width="37.77" height="28.96" fill="#e8cf73"/>
<rect x="1861.94" y="273.46" width="37.77" height="28.96" fill="#f5eccb"/>
<rect x="1899.41" y="273.46" width="37.77" height="28.96" fill="#ecd78a"/>
<rect x="1412.30" y="302.12" width="37.77" height="28.96" fill="#cfc4cd"/>
<rect x="1449.77" y="302.12" width="37.77" height="28.96" fill="#5b3053"/>
<rect x="1487.24" y="302.12" width="37.77" height="28.96" fill="#9b8194"/>
<rect x="1524.71" y="302.12" width="37.77" height="28.96" fill="#c7b9c4"/>
<rect x="1562.18" y="302.12" width="37.77" height="28.96" fill="#e3dde2"/>
<rect x="1599.65" y="302.12" width="37.77" height="28.96" fill="#ddd6db"/>
<rect x="1637.12" y="302.12" width="37.77" height="28.96" fill="#ffffff"/>
<rect x="1674.59" y="302.12" width="37.77" height="28.96" fill="#8b712b"/>
<rect x="1712.06" y="302.12" width="37.77" height="28.96" fill="#ba9a31"/>
<rect x="1749.53" y="302.12" width="37.77" height="28.96" fill="#dcba43"/>
<rect x="1787.00" y="302.12" width="37.77" height="28.96" fill="#ecd78a"/>
<rect x="1824.47" y="302.12" width="37.77" height="28.96" fill="#ead37f"/>
<rect x="1861.94" y="302.12" width="37.77" height="28.96" fill="#ead37f"/>
<rect x="1899.41" y="302.12" width="37.77" height="28.96" fill="#faf6e8"/>
<rect x="1412.30" y="330.78" width="37.77" height="28.96" fill="#663d5b"/>
<rect x="1449.77" y="330.78" width="37.77" height="28.96" fill="#633a58"/>
<rect x="1487.24" y="330.78" width="37.77" height="28.96" fill="#88697f"/>
<rect x="1524.71" y="330.78" width="37.77" height="28.96" fill="#a2899c"/>
<rect x="1562.18" y="330.78" width="37.77" height="28.96" fill="#e3dde2"/>
<rect x="1599.65" y="330.78" width="37.77" height="28.96" fill="#cfc4cd"/>
<rect x="1637.12" y="330.78" width="37.77" height="28.96" fill="#faf9fa"/>
<rect x="1674.59" y="330.78" width="37.77" height="28.96" fill="#9e822e"/>
<rect x="1712.06" y="330.78" width="37.77" height="28.96" fill="#cdaa32"/>
<rect x="1749.53" y="330.78" width="37.77" height="28.96" fill="#d9b63a"/>
<rect x="1787.00" y="330.78" width="37.77" height="28.96" fill="#e6cb68"/>
<rect x="1824.47" y="330.78" width="37.77" height="28.96" fill="#ead37f"/>
<rect x="1861.94" y="330.78" width="37.77" height="28.96" fill="#e8cf73"/>
<rect x="1899.41" y="330.78" width="37.77" height="28.96" fill="#eedb96"/>
<rect x="1412.30" y="359.44" width="37.77" height="28.96" fill="#94788d"/>
<rect x="1449.77" y="359.44" width="37.77" height="28.96" fill="#826179"/>
<rect x="1487.24" y="359.44" width="37.77" height="28.96" fill="#724b67"/>
<rect x="1524.71" y="359.44" width="37.77" height="28.96" fill="#b8a4b3"/>
<rect x="1562.18" y="359.44" width="37.77" height="28.96" fill="#e6e1e5"/>
<rect x="1599.65" y="359.44" width="37.77" height="28.96" fill="#c7b9c4"/>
<rect x="1637.12" y="359.44" width="37.77" height="28.96" fill="#ffffff"/>
<rect x="1674.59" y="359.44" width="37.77" height="28.96" fill="#9e822e"/>
<rect x="1712.06" y="359.44" width="37.77" height="28.96" fill="#b19230"/>
<rect x="1749.53" y="359.44" width="37.77" height="28.96" fill="#d6b232"/>
<rect x="1787.00" y="359.44" width="37.77" height="28.96" fill="#e8cf73"/>
<rect x="1824.47" y="359.44" width="37.77" height="28.96" fill="#ead37f"/>
<rect x="1861.94" y="359.44" width="37.77" height="28.96" fill="#ead37f"/>
<rect x="1899.41" y="359.44" width="37.77" height="28.96" fill="#eedb96"/>
<rect x="1412.30" y="388.10" width="37.77" height="28.96" fill="#603756"/>
<rect x="1449.77" y="388.10" width="37.77" height="28.96" fill="#88697f"/>
<rect x="1487.24" y="388.10" width="37.77" height="28.96" fill="#b09aab"/>
<rect x="1524.71" y="388.10" width="37.77" height="28.96" fill="#cfc4cd"/>
<rect x="1562.18" y="388.10" width="37.77" height="28.96" fill="#ffffff"/>
<rect x="1599.65" y="388.10" width="37.77" height="28.96" fill="#e6e1e5"/>
<rect x="1637.12" y="388.10" width="37.77" height="28.96" fill="#f5f3f5"/>
<rect x="1674.59" y="388.10" width="37.77" height="28.96" fill="#a88a30"/>
<rect x="1712.06" y="388.10" width="37.77" height="28.96" fill="#dcba43"/>
<rect x="1749.53" y="388.10" width="37.77" height="28.96" fill="#ead37f"/>
<rect x="1787.00" y="388.10" width="37.77" height="28.96" fill="#e4c75c"/>
<rect x="1824.47" y="388.10" width="37.77" height="28.96" fill="#eedb96"/>
<rect x="1861.94" y="388.10" width="37.77" height="28.96" fill="#ead37f"/>
<rect x="1899.41" y="388.10" width="37.77" height="28.96" fill="#e4c75c"/>
<rect x="1412.30" y="416.76" width="37.77" height="28.96" fill="#8d7085"/>
<rect x="1449.77" y="416.76" width="37.77" height="28.96" fill="#724b67"/>
<rect x="1487.24" y="416.76" width="37.77" height="28.96" fill="#b8a4b3"/>
<rect x="1524.71" y="416.76" width="37.77" height="28.96" fill="#cfc4cd"/>
<rect x="1562.18" y="416.76" width="37.77" height="28.96" fill="#ffffff"/>
<rect x="1599.65" y="416.76" width="37.77" height="28.96" fill="#ebe7ea"/>
<rect x="1637.12" y="416.76" width="37.77" height="28.96" fill="#ffffff"/>
<rect x="1674.59" y="416.76" width="37.77" height="28.96" fill="#9e822e"/>
<rect x="1712.06" y="416.76" width="37.77" height="28.96" fill="#d6b232"/>
<rect x="1749.53" y="416.76" width="37.77" height="28.96" fill="#ecd78a"/>
<rect x="1787.00" y="416.76" width="37.77" height="28.96" fill="#e4c75c"/>
<rect x="1824.47" y="416.76" width="37.77" height="28.96" fill="#e8cf73"/>
<rect x="1861.94" y="416.76" width="37.77" height="28.96" fill="#ecd78a"/>
<rect x="1899.41" y="416.76" width="37.77" height="28.96" fill="#f3e8be"/>
<rect x="1412.30" y="445.42" width="37.77" height="28.96" fill="#8d7085"/>
<rect x="1449.77" y="445.42" width="37.77" height="28.96" fill="#7d5a73"/>
<rect x="1487.24" y="445.42" width="37.77" height="28.96" fill="#826179"/>
<rect x="1524.71" y="445.42" width="37.77" height="28.96" fill="#a992a3"/>
<rect x="1562.18" y="445.42" width="37.77" height="28.96" fill="#ffffff"/>
<rect x="1599.65" y="445.42" width="37.77" height="28.96" fill="#f5f3f5"/>
<rect x="1637.12" y="445.42" width="37.77" height="28.96" fill="#faf9fa"/>
<rect x="1674.59" y="445.42" width="37.77" height="28.96" fill="#9e822e"/>
<rect x="1712.06" y="445.42" width="37.77" height="28.96" fill="#debf4b"/>
<rect x="1749.53" y="445.42" width="37.77" height="28.96" fill="#e4c75c"/>
<rect x="1787.00" y="445.42" width="37.77" height="28.96" fill="#e4c75c"/>
<rect x="1824.47" y="445.42" width="37.77" height="28.96" fill="#e6cb68"/>
<rect x="1861.94" y="445.42" width="37.77" height="28.96" fill="#ead37f"/>
<rect x="1899.41" y="445.42" width="37.77" height="28.96" fill="#f2e3b0"/>
<rect x="1412.30" y="474.08" width="37.77" height="28.96" fill="#f0dfa3"/>
<rect x="1449.77" y="474.08" width="37.77" height="28.96" fill="#94788d"/>
<rect x="1487.24" y="474.08" width="37.77" height="28.96" fill="#ebe7ea"/>
<rect x="1524.71" y="474.08" width="37.77" height="28.96" fill="#f5f3f5"/>
<rect x="1562.18" y="474.08" width="37.77" height="28.96" fill="#ddd6db"/>
<rect x="1599.65" y="474.08" width="37.77" height="28.96" fill="#ffffff"/>
<rect x="1637.12" y="474.08" width="37.77" height="28.96" fill="#f5f3f5"/>
<rect x="1674.59" y="474.08" width="37.77" height="28.96" fill="#e6cb68"/>
<rect x="1712.06" y="474.08" width="37.77" height="28.96" fill="#b09aab"/>
<rect x="1749.53" y="474.08" width="37.77" height="28.96" fill="#eedb96"/>
<rect x="1787.00" y="474.08" width="37.77" height="28.96" fill="#fdfaf3"/>
<rect x="1824.47" y="474.08" width="37.77" height="28.96" fill="#f3e8be"/>
<rect x="1861.94" y="474.08" width="37.77" height="28.96" fill="#f5eccb"/>
<rect x="1899.41" y="474.08" width="37.77" height="28.96" fill="#f5eccb"/>
<rect x="1412.30" y="502.74" width="37.77" height="28.96" fill="#f5f3f5"/>
<rect x="1449.77" y="502.74" width="37.77" height="28.96" fill="#7d5a73"/>
<rect x="1487.24" y="502.74" width="37.77" height="28.96" fill="#ddd6db"/>
<rect x="1524.71" y="502.74" width="37.77" height="28.96" fill="#ebe7ea"/>
<rect x="1562.18" y="502.74" width="37.77" height="28.96" fill="#e3dde2"/>
<rect x="1599.65" y="502.74" width="37.77" height="28.96" fill="#e3dde2"/>
<rect x="1637.12" y="502.74" width="37.77" height="28.96" fill="#ffffff"/>
<rect x="1674.59" y="502.74" width="37.77" height="28.96" fill="#cdaa32"/>
<rect x="1712.06" y="502.74" width="37.77" height="28.96" fill="#e6cb68"/>
<rect x="1749.53" y="502.74" width="37.77" height="28.96" fill="#f0dfa3"/>
<rect x="1787.00" y="502.74" width="37.77" height="28.96" fill="#f7f0d8"/>
<rect x="1824.47" y="502.74" width="37.77" height="28.96" fill="#ead37f"/>
<rect x="1861.94" y="502.74" width="37.77" height="28.96" fill="#f7f0d8"/>
<rect x="1899.41" y="502.74" width="37.77" height="28.96" fill="#f2e3b0"/>
<rect x="1412.30" y="531.40" width="37.77" height="28.96" fill="#ecd78a"/>
<rect x="1449.77" y="531.40" width="37.77" height="28.96" fill="#d7ced5"/>
<rect x="1487.24" y="531.40" width="37.77" height="28.96" fill="#e3dde2"/>
<rect x="1524.71" y="531.40" width="37.77" height="28.96" fill="#faf9fa"/>
<rect x="1562.18" y="531.40" width="37.77" height="28.96" fill="#ddd6db"/>
<rect x="1599.65" y="531.40" width="37.77" height="28.96" fill="#e3dde2"/>
<rect x="1637.12" y="531.40" width="37.77" height="28.96" fill="#faf9fa"/>
<rect x="1674.59" y="531.40" width="37.77" height="28.96" fill="#e1c354"/>
<rect x="1712.06" y="531.40" width="37.77" height="28.96" fill="#fcf9ef"/>
<rect x="1749.53" y="531.40" width="37.77" height="28.96" fill="#faf6e8"/>
<rect x="1787.00" y="531.40" width="37.77" height="28.96" fill="#fcf9ef"/>
<rect x="1824.47" y="531.40" width="37.77" height="28.96" fill="#f0dfa3"/>
<rect x="1861.94" y="531.40" width="37.77" height="28.96" fill="#faf6e8"/>
<rect x="1899.41" y="531.40" width="37.77" height="28.96" fill="#faf6e8"/>
<rect x="1412.30" y="560.06" width="37.77" height="28.96" fill="#f5eccb"/>
<rect x="1449.77" y="560.06" width="37.77" height="28.96" fill="#9b8194"/>
<rect x="1487.24" y="560.06" width="37.77" height="28.96" fill="#c7b9c4"/>
<rect x="1524.71" y="560.06" width="37.77" height="28.96" fill="#f5f3f5"/>
<rect x="1562.18" y="560.06" width="37.77" height="28.96" fill="#f5f3f5"/>
<rect x="1599.65" y="560.06" width="37.77" height="28.96" fill="#f7f0d8"/>
<rect x="1637.12" y="560.06" width="37.77" height="28.96" fill="#ffffff"/>
<rect x="1674.59" y="560.06" width="37.77" height="28.96" fill="#d9b63a"/>
<rect x="1712.06" y="560.06" width="37.77" height="28.96" fill="#ecd78a"/>
<rect x="1749.53" y="560.06" width="37.77" height="28.96" fill="#f5eccb"/>
<rect x="1787.00" y="560.06" width="37.77" height="28.96" fill="#f5eccb"/>
<rect x="1824.47" y="560.06" width="37.77" height="28.96" fill="#f0dfa3"/>
<rect x="1861.94" y="560.06" width="37.77" height="28.96" fill="#f7f0d8"/>
<rect x="1899.41" y="560.06" width="37.77" height="28.96" fill="#f5eccb"/>
<rect x="1412.30" y="588.72" width="37.77" height="28.96" fill="#f5f3f5"/>
<rect x="1449.77" y="588.72" width="37.77" height="28.96" fill="#b8a4b3"/>
<rect x="1487.24" y="588.72" width="37.77" height="28.96" fill="#ffffff"/>
<rect x="1524.71" y="588.72" width="37.77" height="28.96" fill="#ebe7ea"/>
<rect x="1562.18" y="588.72" width="37.77" height="28.96" fill="#f5f3f5"/>
<rect x="1599.65" y="588.72" width="37.77" height="28.96" fill="#f5f3f5"/>
<rect x="1637.12" y="588.72" width="37.77" height="28.96" fill="#ebe7ea"/>
<rect x="1674.59" y="588.72" width="37.77" height="28.96" fill="#ead37f"/>
<rect x="1712.06" y="588.72" width="37.77" height="28.96" fill="#ead37f"/>
<rect x="1749.53" y="588.72" width="37.77" height="28.96" fill="#fdfaf3"/>
<rect x="1787.00" y="588.72" width="37.77" height="28.96" fill="#fdfcf7"/>
<rect x="1824.47" y="588.72" width="37.77" height="28.96" fill="#f5eccb"/>
<rect x="1861.94" y="588.72" width="37.77" height="28.96" fill="#faf6e8"/>
<rect x="1899.41" y="588.72" width="37.77" height="28.96" fill="#f7f0d8"/>
<rect x="1412.30" y="617.38" width="37.77" height="28.96" fill="#b09aab"/>
<rect x="1449.77" y="617.38" width="37.77" height="28.96" fill="#fefefb"/>
<rect x="1487.24" y="617.38" width="37.77" height="28.96" fill="#f5f3f5"/>
<rect x="1524.71" y="617.38" width="37.77" height="28.96" fill="#faf9fa"/>
<rect x="1562.18" y="617.38" width="37.77" height="28.96" fill="#f5eccb"/>
<rect x="1599.65" y="617.38" width="37.77" height="28.96" fill="#f9f3e0"/>
<rect x="1637.12" y="617.38" width="37.77" height="28.96" fill="#faf9fa"/>
<rect x="1674.59" y="617.38" width="37.77" height="28.96" fill="#faf6e8"/>
<rect x="1712.06" y="617.38" width="37.77" height="28.96" fill="#b8a4b3"/>
<rect x="1749.53" y="617.38" width="37.77" height="28.96" fill="#f5f3f5"/>
<rect x="1787.00" y="617.38" width="37.77" height="28.96" fill="#f5eccb"/>
<rect x="1824.47" y="617.38" width="37.77" height="28.96" fill="#f5f3f5"/>
<rect x="1861.94" y="617.38" width="37.77" height="28.96" fill="#f5f3f5"/>
<rect x="1899.41" y="617.38" width="37.77" height="28.96" fill="#ffffff"/>
<rect x="1412.30" y="646.04" width="37.77" height="28.96" fill="#77526d"/>
<rect x="1449.77" y="646.04" width="37.77" height="28.96" fill="#c7b9c4"/>
<rect x="1487.24" y="646.04" width="37.77" height="28.96" fill="#f5f3f5"/>
<rect x="1524.71" y="646.04" width="37.77" height="28.96" fill="#eedb96"/>
<rect x="1562.18" y="646.04" width="37.77" height="28.96" fill="#ffffff"/>
<rect x="1599.65" y="646.04" width="37.77" height="28.96" fill="#fdfaf3"/>
<rect x="1637.12" y="646.04" width="37.77" height="28.96" fill="#ebe7ea"/>
<rect x="1674.59" y="646.04" width="37.77" height="28.96" fill="#faf6e8"/>
<rect x="1712.06" y="646.04" width="37.77" height="28.96" fill="#56294f"/>
<rect x="1749.53" y="646.04" width="37.77" height="28.96" fill="#ffffff"/>
<rect x="1787.00" y="646.04" width="37.77" height="28.96" fill="#e6cb68"/>
<rect x="1824.47" y="646.04" width="37.77" height="28.96" fill="#e3dde2"/>
<rect x="1861.94" y="646.04" width="37.77" height="28.96" fill="#f5eccb"/>
<rect x="1899.41" y="646.04" width="37.77" height="28.96" fill="#f5f3f5"/>
<rect x="1412.30" y="674.70" width="37.77" height="28.96" fill="#56294f"/>
<rect x="1449.77" y="674.70" width="37.77" height="28.96" fill="#ddd6db"/>
<rect x="1487.24" y="674.70" width="37.77" height="28.96" fill="#faf9fa"/>
<rect x="1524.71" y="674.70" width="37.77" height="28.96" fill="#fdfaf3"/>
<rect x="1562.18" y="674.70" width="37.77" height="28.96" fill="#f5eccb"/>
<rect x="1599.65" y="674.70" width="37.77" height="28.96" fill="#f2e3b0"/>
<rect x="1637.12" y="674.70" width="37.77" height="28.96" fill="#f5eccb"/>
<rect x="1674.59" y="674.70" width="37.77" height="28.96" fill="#e1c354"/>
<rect x="1712.06" y="674.70" width="37.77" height="28.96" fill="#a992a3"/>
<rect x="1749.53" y="674.70" width="37.77" height="28.96" fill="#f5f3f5"/>
<rect x="1787.00" y="674.70" width="37.77" height="28.96" fill="#8b712b"/>
<rect x="1824.47" y="674.70" width="37.77" height="28.96" fill="#faf6e8"/>
<rect x="1861.94" y="674.70" width="37.77" height="28.96" fill="#f5eccb"/>
<rect x="1899.41" y="674.70" width="37.77" height="28.96" fill="#f2e3b0"/>
<rect x="1412.30" y="703.36" width="37.77" height="28.96" fill="#56294f"/>
<rect x="1449.77" y="703.36" width="37.77" height="28.96" fill="#b8a4b3"/>
<rect x="1487.24" y="703.36" width="37.77" height="28.96" fill="#ddd6db"/>
<rect x="1524.71" y="703.36" width="37.77" height="28.96" fill="#c0afbc"/>
<rect x="1562.18" y="703.36" width="37.77" height="28.96" fill="#d7ced5"/>
<rect x="1599.65" y="703.36" width="37.77" height="28.96" fill="#c0afbc"/>
<rect x="1637.12" y="703.36" width="37.77" height="28.96" fill="#ffffff"/>
<rect x="1674.59" y="703.36" width="37.77" height="28.96" fill="#f5eccb"/>
<rect x="1712.06" y="703.36" width="37.77" height="28.96" fill="#ffffff"/>
<rect x="1749.53" y="703.36" width="37.77" height="28.96" fill="#f7f0d8"/>
<rect x="1787.00" y="703.36" width="37.77" height="28.96" fill="#e1c354"/>
<rect x="1824.47" y="703.36" width="37.77" height="28.96" fill="#f2e3b0"/>
<rect x="1861.94" y="703.36" width="37.77" height="28.96" fill="#f5eccb"/>
<rect x="1899.41" y="703.36" width="37.77" height="28.96" fill="#f5eccb"/>
<path d="M1449.77 101.50V732.02M1487.24 101.50V732.02M1524.71 101.50V732.02M1562.18 101.50V732.02M1599.65 101.50V732.02M1637.12 101.50V732.02M1674.59 101.50V732.02M1712.06 101.50V732.02M1749.53 101.50V732.02M1787.00 101.50V732.02M1824.47 101.50V732.02M1861.94 101.50V732.02M1899.41 101.50V732.02M1412.30 130.16H1936.88M1412.30 158.82H1936.88M1412.30 187.48H1936.88M1412.30 216.14H1936.88M1412.30 244.80H1936.88M1412.30 273.46H1936.88M1412.30 302.12H1936.88M1412.30 330.78H1936.88M1412.30 359.44H1936.88M1412.30 388.10H1936.88M1412.30 416.76H1936.88M1412.30 445.42H1936.88M1412.30 474.08H1936.88M1412.30 502.74H1936.88M1412.30 531.40H1936.88M1412.30 560.06H1936.88M1412.30 588.72H1936.88M1412.30 617.38H1936.88M1412.30 646.04H1936.88M1412.30 674.70H1936.88M1412.30 703.36H1936.88" stroke="#ababab" stroke-width="1.3" fill="none"/>
<rect x="1412.30" y="101.50" width="524.58" height="630.52" stroke="#ababab" stroke-width="1.5" fill="none"/>
<text x="1941.0" y="125.1" font-size="24.5" text-anchor="start">PKM2</text>
<text x="1941.0" y="153.8" font-size="24.5" text-anchor="start">CSK</text>
<text x="1941.0" y="182.5" font-size="24.5" text-anchor="start">PRKCB</text>
<text x="1941.0" y="211.1" font-size="24.5" text-anchor="start">ACP1</text>
<text x="1941.0" y="239.8" font-size="24.5" text-anchor="start">HSPD1</text>
<text x="1941.0" y="268.4" font-size="24.5" text-anchor="start">RAC1</text>
<text x="1941.0" y="297.1" font-size="24.5" text-anchor="start">HSPB1</text>
<text x="1941.0" y="325.8" font-size="24.5" text-anchor="start">STAT3</text>
<text x="1941.0" y="354.4" font-size="24.5" text-anchor="start">GSK3A</text>
<text x="1941.0" y="383.1" font-size="24.5" text-anchor="start">YWHAZ</text>
<text x="1941.0" y="411.7" font-size="24.5" text-anchor="start">CFL1</text>
<text x="1941.0" y="440.4" font-size="24.5" text-anchor="start">AKT1</text>
<text x="1941.0" y="469.1" font-size="24.5" text-anchor="start">AKT2</text>
<text x="1941.0" y="497.7" font-size="24.5" text-anchor="start">AKR1A1</text>
<text x="1941.0" y="526.4" font-size="24.5" text-anchor="start">HSP90AA1</text>
<text x="1941.0" y="555.0" font-size="24.5" text-anchor="start">MDH1</text>
<text x="1941.0" y="583.7" font-size="24.5" text-anchor="start">ALDOA</text>
<text x="1941.0" y="612.3" font-size="24.5" text-anchor="start">LDHB</text>
<text x="1941.0" y="641.0" font-size="24.5" text-anchor="start">GOT1</text>
<text x="1941.0" y="669.7" font-size="24.5" text-anchor="start">GPD1</text>
<text x="1941.0" y="698.3" font-size="24.5" text-anchor="start">ENO2</text>
<text x="1941.0" y="727.0" font-size="24.5" text-anchor="start">PPA1</text>
<path d="M1496.9 69.5V33.6H1775.2V68.3 M1431.0 101.5V69.5H1562.5V75.8 M1496.9 85.9V75.8H1627.8V92.7 M1468.5 101.5V85.9H1525V93.3 M1506.0 101.5V93.3H1543.4V101.5 M1600 96.9V92.7H1655.9V101.5 M1580.9 101.5V96.9H1618.4V101.5 M1712 80.5V68.3H1838.1V87 M1693.3 101.5V80.5H1730.8V101.5 M1786.6 88.3V87H1889.7V94.5 M1768.3 101.5V88.3H1805.7V101.5 M1861.6 96.1V94.5H1918.1V101.5 M1843.2 101.5V96.1H1880.7V101.5" stroke="#000" stroke-width="2.2" fill="none" stroke-linecap="square"/>
<path d="M1383.7 206.9H1359V594.4H1371.3 M1403.2 137H1383.7V276H1390.8 M1412.3 115.8H1403.2V158.5H1407.5 M1412.3 144.5H1407.5V173.2H1412.3 M1400.8 216H1390.8V336.3H1396.8 M1412.3 201.8H1400.8V230.5H1412.3 M1401.6 279.9H1396.8V390H1401.2 M1412.3 259.1H1401.6V301.3H1404.8 M1412.3 287.8H1404.8V316.4H1412.3 M1405.6 359.3H1401.2V423H1405.9 M1412.3 345.1H1405.6V373.8H1412.3 M1412.3 402.4H1405.9V445H1407.3 M1412.3 431.1H1407.3V459.8H1412.3 M1397.1 514.4H1371.3V673.5H1381.3 M1412.3 488.4H1397.1V540.8H1399.8 M1412.3 517.1H1399.8V566.3H1403.6 M1412.3 545.7H1403.6V588.3H1405.4 M1412.3 574.4H1405.4V603.0H1412.3 M1395.9 644.5H1381.3V702.5H1393.6 M1412.3 631.7H1395.9V660.4H1412.3 M1412.3 689.0H1393.6V717.7H1412.3" stroke="#000" stroke-width="2.2" fill="none" stroke-linecap="square"/>
<path d="M1431.0 730.6V740.6M1468.5 730.6V740.6M1506.0 730.6V740.6M1543.4 730.6V740.6M1580.9 730.6V740.6M1618.4 730.6V740.6M1655.9 730.6V740.6M1693.3 730.6V740.6M1730.8 730.6V740.6M1768.3 730.6V740.6M1805.7 730.6V740.6M1843.2 730.6V740.6M1880.7 730.6V740.6M1918.1 730.6V740.6" stroke="#000" stroke-width="2.0"/>
<text x="0" y="0" font-size="24.5" transform="translate(1423.0,760.6) rotate(45)">06</text>
<text x="0" y="0" font-size="24.5" transform="translate(1460.5,760.6) rotate(45)">03</text>
<text x="0" y="0" font-size="24.5" transform="translate(1498.0,760.6) rotate(45)">11</text>
<text x="0" y="0" font-size="24.5" transform="translate(1535.4,760.6) rotate(45)">114</text>
<text x="0" y="0" font-size="24.5" transform="translate(1572.9,760.6) rotate(45)">14</text>
<text x="0" y="0" font-size="24.5" transform="translate(1610.4,760.6) rotate(45)">05</text>
<text x="0" y="0" font-size="24.5" transform="translate(1647.9,760.6) rotate(45)">13</text>
<text x="0" y="0" font-size="24.5" transform="translate(1685.3,760.6) rotate(45)">110</text>
<text x="0" y="0" font-size="24.5" transform="translate(1722.8,760.6) rotate(45)">02</text>
<text x="0" y="0" font-size="24.5" transform="translate(1760.3,760.6) rotate(45)">09</text>
<text x="0" y="0" font-size="24.5" transform="translate(1797.7,760.6) rotate(45)">122</text>
<text x="0" y="0" font-size="24.5" transform="translate(1835.2,760.6) rotate(45)">123</text>
<text x="0" y="0" font-size="24.5" transform="translate(1872.7,760.6) rotate(45)">113</text>
<text x="0" y="0" font-size="24.5" transform="translate(1910.1,760.6) rotate(45)">12</text>
<text x="1700.6" y="813.3" font-size="24.6" text-anchor="middle">Participant ID</text>
<text x="1688.5" y="876.3" font-size="25" text-anchor="middle">Log<tspan dy="8" font-size="26">2</tspan><tspan dy="-8"> fold-change of plasma proteins</tspan></text>
<text x="1688.5" y="905.7" font-size="25" text-anchor="middle">(day 49 vs 11)</text>
<rect x="1529.9" y="918.5" width="320.6" height="21.3" fill="url(#gc)"/>
<text x="1530.9" y="965.2" font-size="23.5" text-anchor="middle">−3</text>
<text x="1584.7" y="965.2" font-size="23.5" text-anchor="middle">−2</text>
<text x="1637.7" y="965.2" font-size="23.5" text-anchor="middle">−1</text>
<text x="1688.7" y="965.2" font-size="23.5" text-anchor="middle">0</text>
<text x="1742.2" y="965.2" font-size="23.5" text-anchor="middle">1</text>
<text x="1796.1" y="965.2" font-size="23.5" text-anchor="middle">2</text>
<text x="1849.2" y="965.2" font-size="23.5" text-anchor="middle">3</text>
<text x="-1.0" y="1815.5" font-size="36" text-anchor="start" font-weight="bold">d</text>
<path d="M137 1796V2247.8M123.8 2247.8H770.3" stroke="#000" stroke-width="3.0" fill="none"/>
<path d="M124.3 1797.3H137" stroke="#000" stroke-width="3.0"/>
<text x="115.5" y="1806.9" font-size="24.5" text-anchor="end">30,000</text>
<path d="M124.3 1947.9H137" stroke="#000" stroke-width="3.0"/>
<text x="115.5" y="1957.5" font-size="24.5" text-anchor="end">20,000</text>
<path d="M124.3 2098H137" stroke="#000" stroke-width="3.0"/>
<text x="115.5" y="2107.6" font-size="24.5" text-anchor="end">10,000</text>
<path d="M124.3 2247.8H137" stroke="#000" stroke-width="3.0"/>
<text x="115.5" y="2257.4" font-size="24.5" text-anchor="end">0</text>
<text x="150.5" y="1810.0" font-size="24.8" text-anchor="start">Gnotobiotic mice</text>
<text x="0" y="0" font-size="24.8" text-anchor="middle" transform="translate(22.4,2018.7) rotate(-90)">Ion count (m/z 274.1442)</text>
<path d="M201.4 2247.8V2266.5M301.4 2247.8V2266.5M399.1 2247.8V2266.5M515.7 2247.8V2266.5M615.8 2247.8V2266.5M713.7 2247.8V2266.5" stroke="#000" stroke-width="3.0"/>
<rect x="367.8" y="1864.7" width="63.5" height="383" fill="none" stroke="#000" stroke-width="2.2"/>
<rect x="681.5" y="1924.5" width="63.6" height="323" fill="none" stroke="#000" stroke-width="2.2"/>
<path d="M399 1835.5V1891.5M380.8 1835.5H416.9M380.8 1891.5H416.9" stroke="#000" stroke-width="1.8"/>
<path d="M713.5 1905.5V1942.4M695.5 1905.5H731.5M695.5 1942.4H731.5" stroke="#000" stroke-width="1.8"/>
<circle cx="399" cy="1825.7" r="6.7" fill="#c9582b"/>
<circle cx="399" cy="1843.5" r="6.7" fill="#c9582b"/>
<circle cx="385.5" cy="1873.7" r="6.7" fill="#c9582b"/>
<circle cx="412.6" cy="1880.9" r="6.7" fill="#c9582b"/>
<circle cx="399" cy="1894" r="6.7" fill="#c9582b"/>
<circle cx="713.7" cy="1895.7" r="6.7" fill="#c9582b"/>
<circle cx="700.6" cy="1926.2" r="6.7" fill="#c9582b"/>
<circle cx="726.9" cy="1917.8" r="6.7" fill="#c9582b"/>
<circle cx="700.6" cy="1940.2" r="6.7" fill="#c9582b"/>
<circle cx="726.9" cy="1939" r="6.7" fill="#c9582b"/>
<circle cx="172.8" cy="2247.8" r="6.7" fill="#8c8c8c"/>
<circle cx="186.7" cy="2247.8" r="6.7" fill="#8c8c8c"/>
<circle cx="201.4" cy="2247.8" r="6.7" fill="#8c8c8c"/>
<circle cx="215.6" cy="2247.8" r="6.7" fill="#8c8c8c"/>
<circle cx="229.8" cy="2247.8" r="6.7" fill="#8c8c8c"/>
<circle cx="273.2" cy="2247.8" r="6.7" fill="#13976b"/>
<circle cx="287.2" cy="2247.8" r="6.7" fill="#13976b"/>
<circle cx="301.4" cy="2247.8" r="6.7" fill="#13976b"/>
<circle cx="316.1" cy="2247.8" r="6.7" fill="#13976b"/>
<circle cx="330.3" cy="2247.8" r="6.7" fill="#13976b"/>
<circle cx="487.7" cy="2247.8" r="6.7" fill="#8c8c8c"/>
<circle cx="501.7" cy="2247.8" r="6.7" fill="#8c8c8c"/>
<circle cx="516.1" cy="2247.8" r="6.7" fill="#8c8c8c"/>
<circle cx="530.5" cy="2247.8" r="6.7" fill="#8c8c8c"/>
<circle cx="545" cy="2247.8" r="6.7" fill="#8c8c8c"/>
<circle cx="587" cy="2247.8" r="6.7" fill="#13976b"/>
<circle cx="601.4" cy="2247.8" r="6.7" fill="#13976b"/>
<circle cx="615.8" cy="2247.8" r="6.7" fill="#13976b"/>
<circle cx="630.2" cy="2247.8" r="6.7" fill="#13976b"/>
<circle cx="644.6" cy="2247.8" r="6.7" fill="#13976b"/>
<path d="M457.5 2225.4V2369" stroke="#000" stroke-width="3.0"/>
<text x="142.0" y="2283.0" font-size="24.8" text-anchor="end">HiSF-LoFV</text>
<text x="142.0" y="2307.9" font-size="24.8" text-anchor="end">diet:</text>
<text x="204.4" y="2297.7" font-size="24.8" text-anchor="middle">Unsuppl.</text>
<text x="515.7" y="2297.7" font-size="24.8" text-anchor="middle">Unsuppl.</text>
<text x="301.4" y="2297.7" font-size="24.8" text-anchor="middle">+ Pea</text>
<text x="301.4" y="2327.2" font-size="24.8" text-anchor="middle">fibre</text>
<text x="615.8" y="2297.7" font-size="24.8" text-anchor="middle">+ Pea</text>
<text x="615.8" y="2327.2" font-size="24.8" text-anchor="middle">fibre</text>
<text x="398.7" y="2297.7" font-size="24.8" text-anchor="middle">+ Orange</text>
<text x="398.7" y="2327.2" font-size="24.8" text-anchor="middle">fibre</text>
<text x="713.7" y="2297.7" font-size="24.8" text-anchor="middle">+ Orange</text>
<text x="713.7" y="2327.2" font-size="24.8" text-anchor="middle">fibre</text>
<text x="299.3" y="2364.7" font-size="24.8" text-anchor="middle">TP01-01 donor microbiome</text>
<text x="615.8" y="2364.7" font-size="24.8" text-anchor="middle">Germ-free</text>
<text x="792.5" y="1820.5" font-size="36" text-anchor="start" font-weight="bold">e</text>
<path d="M947.6 1799.3V2248.3M936 2248.3H1171.9" stroke="#000" stroke-width="3.0" fill="none"/>
<path d="M935.5 1800.6H947.6" stroke="#000" stroke-width="3.0"/>
<text x="927.5" y="1810.8" font-size="24.5" text-anchor="end">250,000</text>
<path d="M935.5 1890.6H947.6" stroke="#000" stroke-width="3.0"/>
<text x="927.5" y="1900.8" font-size="24.5" text-anchor="end">200,000</text>
<path d="M935.5 1980.3H947.6" stroke="#000" stroke-width="3.0"/>
<text x="927.5" y="1990.5" font-size="24.5" text-anchor="end">150,000</text>
<path d="M935.5 2070.0H947.6" stroke="#000" stroke-width="3.0"/>
<text x="927.5" y="2080.2" font-size="24.5" text-anchor="end">100,000</text>
<path d="M935.5 2159.4H947.6" stroke="#000" stroke-width="3.0"/>
<text x="927.5" y="2169.6" font-size="24.5" text-anchor="end">50,000</text>
<path d="M935.5 2248.3H947.6" stroke="#000" stroke-width="3.0"/>
<text x="927.5" y="2258.5" font-size="24.5" text-anchor="end">0</text>
<text x="964.2" y="1810.0" font-size="24.8" text-anchor="start">Human participants</text>
<text x="0" y="0" font-size="24.8" text-anchor="middle" transform="translate(813.5,2013.9) rotate(-90)">Ion count (m/z 274.1442)</text>
<rect x="981.5" y="2232.7" width="59" height="15.6" fill="none" stroke="#000" stroke-width="2.2"/>
<rect x="1077.5" y="2099" width="59" height="149.3" fill="none" stroke="#000" stroke-width="2.2"/>
<path d="M1010.8 2224.6V2236.9M994.6 2224.6H1027M994.6 2236.9H1027" stroke="#000" stroke-width="2.2"/>
<path d="M1106.8 2068V2125.6M1090.6 2068H1123.4M1090.6 2125.6H1123.4" stroke="#000" stroke-width="2.4"/>
<circle cx="1015.2" cy="2188" r="6.7" fill="#4a88c7"/>
<circle cx="1006.9" cy="2193.6" r="6.7" fill="#4a88c7"/>
<circle cx="1007.4" cy="2207" r="6.7" fill="#4a88c7"/>
<circle cx="1014.7" cy="2208.7" r="6.7" fill="#4a88c7"/>
<circle cx="1006.9" cy="2216" r="6.7" fill="#4a88c7"/>
<circle cx="1010.8" cy="2231" r="6.7" fill="#4a88c7"/>
<circle cx="991.8" cy="2243.8" r="6.7" fill="#4a88c7"/>
<circle cx="990" cy="2241.6" r="6.7" fill="#4a88c7"/>
<circle cx="982.9" cy="2248.9" r="6.7" fill="#4a88c7"/>
<circle cx="998" cy="2249.4" r="6.7" fill="#4a88c7"/>
<circle cx="1006.9" cy="2246" r="6.7" fill="#4a88c7"/>
<circle cx="1013.6" cy="2249.4" r="6.7" fill="#4a88c7"/>
<circle cx="1022.5" cy="2248.9" r="6.7" fill="#4a88c7"/>
<circle cx="1030.3" cy="2249.4" r="6.7" fill="#4a88c7"/>
<circle cx="1038.1" cy="2249.4" r="6.7" fill="#4a88c7"/>
<circle cx="1106.6" cy="1860" r="6.7" fill="#942b8e"/>
<circle cx="1106.6" cy="1976.9" r="6.7" fill="#942b8e"/>
<circle cx="1106.6" cy="1989.6" r="6.7" fill="#942b8e"/>
<circle cx="1106.6" cy="2031.9" r="6.7" fill="#942b8e"/>
<circle cx="1106.6" cy="2049" r="6.7" fill="#942b8e"/>
<circle cx="1106.6" cy="2069.4" r="6.7" fill="#942b8e"/>
<circle cx="1097.5" cy="2106" r="6.7" fill="#942b8e"/>
<circle cx="1115.6" cy="2106" r="6.7" fill="#942b8e"/>
<circle cx="1106.8" cy="2152.9" r="6.7" fill="#942b8e"/>
<circle cx="1106.8" cy="2171" r="6.7" fill="#942b8e"/>
<circle cx="1098" cy="2201.4" r="6.7" fill="#942b8e"/>
<circle cx="1116" cy="2198.6" r="6.7" fill="#942b8e"/>
<circle cx="1106.8" cy="2211.3" r="6.7" fill="#942b8e"/>
<circle cx="1106.8" cy="2235.5" r="6.7" fill="#942b8e"/>
<path d="M1011 2248.3V2261.6M1107.2 2248.3V2261.6" stroke="#000" stroke-width="3.0"/>
<text x="900.0" y="2288.0" font-size="24.8" text-anchor="start">Day:</text>
<text x="1011.0" y="2288.0" font-size="24.8" text-anchor="middle">25</text>
<text x="1106.6" y="2288.0" font-size="24.8" text-anchor="middle">49</text>
<circle cx="907.8" cy="2319.4" r="7.2" fill="#4a88c7"/>
<circle cx="907.8" cy="2352.2" r="7.2" fill="#942b8e"/>
<text x="923.4" y="2327.0" font-size="24.8" text-anchor="start">Day 25 (2-fibre snack)</text>
<text x="923.4" y="2360.0" font-size="24.8" text-anchor="start">Day 49 (4-fibre snack)</text>
<text x="1242.0" y="1809.5" font-size="36" text-anchor="start" font-weight="bold">f</text>
<g fill="#000"><circle cx="1409.4" cy="2186.2" r="2.2"/><circle cx="1421.4" cy="2186.2" r="2.2"/><circle cx="1433.4" cy="2186.2" r="2.2"/><circle cx="1445.4" cy="2186.2" r="2.2"/><circle cx="1457.4" cy="2186.2" r="2.2"/><circle cx="1469.4" cy="2186.2" r="2.2"/><circle cx="1481.4" cy="2186.2" r="2.2"/><circle cx="1493.4" cy="2186.2" r="2.2"/><circle cx="1505.4" cy="2186.2" r="2.2"/><circle cx="1517.4" cy="2186.2" r="2.2"/><circle cx="1529.4" cy="2186.2" r="2.2"/><circle cx="1541.4" cy="2186.2" r="2.2"/><circle cx="1553.4" cy="2186.2" r="2.2"/><circle cx="1565.4" cy="2186.2" r="2.2"/><circle cx="1577.4" cy="2186.2" r="2.2"/><circle cx="1589.4" cy="2186.2" r="2.2"/><circle cx="1601.4" cy="2186.2" r="2.2"/><circle cx="1613.4" cy="2186.2" r="2.2"/><circle cx="1625.4" cy="2186.2" r="2.2"/><circle cx="1637.4" cy="2186.2" r="2.2"/><circle cx="1649.4" cy="2186.2" r="2.2"/><circle cx="1661.4" cy="2186.2" r="2.2"/><circle cx="1673.4" cy="2186.2" r="2.2"/><circle cx="1685.4" cy="2186.2" r="2.2"/><circle cx="1697.4" cy="2186.2" r="2.2"/><circle cx="1709.4" cy="2186.2" r="2.2"/><circle cx="1721.4" cy="2186.2" r="2.2"/><circle cx="1733.4" cy="2186.2" r="2.2"/><circle cx="1745.4" cy="2186.2" r="2.2"/><circle cx="1757.4" cy="2186.2" r="2.2"/><circle cx="1769.4" cy="2186.2" r="2.2"/><circle cx="1781.4" cy="2186.2" r="2.2"/><circle cx="1793.4" cy="2186.2" r="2.2"/><circle cx="1805.4" cy="2186.2" r="2.2"/><circle cx="1817.4" cy="2186.2" r="2.2"/><circle cx="1829.4" cy="2186.2" r="2.2"/><circle cx="1841.4" cy="2186.2" r="2.2"/><circle cx="1853.4" cy="2186.2" r="2.2"/><circle cx="1865.4" cy="2186.2" r="2.2"/><circle cx="1877.4" cy="2186.2" r="2.2"/><circle cx="1889.4" cy="2186.2" r="2.2"/><circle cx="1901.4" cy="2186.2" r="2.2"/><circle cx="1913.4" cy="2186.2" r="2.2"/><circle cx="1925.4" cy="2186.2" r="2.2"/><circle cx="1937.4" cy="2186.2" r="2.2"/><circle cx="1949.4" cy="2186.2" r="2.2"/><circle cx="1961.4" cy="2186.2" r="2.2"/><circle cx="1973.4" cy="2186.2" r="2.2"/><circle cx="1985.4" cy="2186.2" r="2.2"/><circle cx="1997.4" cy="2186.2" r="2.2"/><circle cx="2009.4" cy="2186.2" r="2.2"/><circle cx="2021.4" cy="2186.2" r="2.2"/><circle cx="2033.4" cy="2186.2" r="2.2"/><circle cx="2045.4" cy="2186.2" r="2.2"/><circle cx="2057.4" cy="2186.2" r="2.2"/><circle cx="2069.4" cy="2186.2" r="2.2"/></g>
<rect x="1410.3" y="2207.1" width="15.8" height="41.6" fill="#4a88c7"/>
<rect x="1429.8" y="1857.7" width="16" height="391.0" fill="#942b8e"/>
<rect x="1477.0" y="1975.7" width="16" height="273.0" fill="#942b8e"/>
<rect x="1504.9" y="2243.8" width="15.8" height="4.9" fill="#4a88c7"/>
<rect x="1524.3" y="1988.4" width="16" height="260.3" fill="#942b8e"/>
<rect x="1571.6" y="2067.8" width="16" height="180.9" fill="#942b8e"/>
<rect x="1599.5" y="2208.8" width="15.8" height="39.9" fill="#4a88c7"/>
<rect x="1619.0" y="2047.6" width="16" height="201.1" fill="#942b8e"/>
<rect x="1646.8" y="2188.6" width="15.8" height="60.1" fill="#4a88c7"/>
<rect x="1666.2" y="2031.2" width="16" height="217.5" fill="#942b8e"/>
<rect x="1713.5" y="2105.4" width="16" height="143.3" fill="#942b8e"/>
<rect x="1760.8" y="2105.4" width="16" height="143.3" fill="#942b8e"/>
<rect x="1788.7" y="2244.0" width="15.8" height="4.7" fill="#4a88c7"/>
<rect x="1808.1" y="2170.2" width="16" height="78.5" fill="#942b8e"/>
<rect x="1836.0" y="2193.3" width="15.8" height="55.4" fill="#4a88c7"/>
<rect x="1855.5" y="2151.9" width="16" height="96.8" fill="#942b8e"/>
<rect x="1902.8" y="2198.0" width="16" height="50.7" fill="#942b8e"/>
<rect x="1950.0" y="2201.3" width="16" height="47.4" fill="#942b8e"/>
<rect x="1977.9" y="2215.4" width="15.8" height="33.3" fill="#4a88c7"/>
<rect x="1997.3" y="2210.7" width="16" height="38.0" fill="#942b8e"/>
<rect x="2025.2" y="2231.3" width="15.8" height="17.4" fill="#4a88c7"/>
<rect x="2044.6" y="2235.1" width="16" height="13.6" fill="#942b8e"/>
<path d="M1396.8 1799.5V2248.7M1384.5 2248.7H2072" stroke="#000" stroke-width="3.0" fill="none"/>
<path d="M1384.1 1800.9H1396.8" stroke="#000" stroke-width="3.0"/>
<text x="1378.0" y="1811.1" font-size="24.5" text-anchor="end">250,000</text>
<path d="M1384.1 1890.2H1396.8" stroke="#000" stroke-width="3.0"/>
<text x="1378.0" y="1900.4" font-size="24.5" text-anchor="end">200,000</text>
<path d="M1384.1 1979.9H1396.8" stroke="#000" stroke-width="3.0"/>
<text x="1378.0" y="1990.1" font-size="24.5" text-anchor="end">150,000</text>
<path d="M1384.1 2069.2H1396.8" stroke="#000" stroke-width="3.0"/>
<text x="1378.0" y="2079.4" font-size="24.5" text-anchor="end">100,000</text>
<path d="M1384.1 2158.5H1396.8" stroke="#000" stroke-width="3.0"/>
<text x="1378.0" y="2168.7" font-size="24.5" text-anchor="end">50,000</text>
<path d="M1384.1 2248.7H1396.8" stroke="#000" stroke-width="3.0"/>
<text x="1378.0" y="2258.9" font-size="24.5" text-anchor="end">0</text>
<text x="1414.7" y="1809.3" font-size="24.8" text-anchor="start">Human participants</text>
<text x="0" y="0" font-size="24.8" text-anchor="middle" transform="translate(1262.4,2031.4) rotate(-90)">Ion count (m/z 274.1442)</text>
<path d="M1452.7 2235.7V2263M1500.0 2235.7V2263M1547.3 2235.7V2263M1594.6 2235.7V2263M1641.9 2235.7V2263M1689.2 2235.7V2263M1736.5 2235.7V2263M1783.8 2235.7V2263M1831.1 2235.7V2263M1878.4 2235.7V2263M1925.7 2235.7V2263M1973.0 2235.7V2263M2020.3 2235.7V2263" stroke="#000" stroke-width="3.0"/>
<text x="1243.0" y="2292.4" font-size="24.8" text-anchor="start">Participant ID:</text>
<text x="1428.0" y="2292.4" font-size="24.8" text-anchor="middle">11</text>
<text x="1475.3" y="2292.4" font-size="24.8" text-anchor="middle">13</text>
<text x="1522.6" y="2292.4" font-size="24.8" text-anchor="middle">123</text>
<text x="1569.9" y="2292.4" font-size="24.8" text-anchor="middle">2</text>
<text x="1617.2" y="2292.4" font-size="24.8" text-anchor="middle">122</text>
<text x="1664.5" y="2292.4" font-size="24.8" text-anchor="middle">9</text>
<text x="1711.8" y="2292.4" font-size="24.8" text-anchor="middle">110</text>
<text x="1759.1" y="2292.4" font-size="24.8" text-anchor="middle">14</text>
<text x="1806.4" y="2292.4" font-size="24.8" text-anchor="middle">3</text>
<text x="1853.7" y="2292.4" font-size="24.8" text-anchor="middle">12</text>
<text x="1901.0" y="2292.4" font-size="24.8" text-anchor="middle">6</text>
<text x="1948.3" y="2292.4" font-size="24.8" text-anchor="middle">113</text>
<text x="1995.6" y="2292.4" font-size="24.8" text-anchor="middle">114</text>
<text x="2042.9" y="2292.4" font-size="24.8" text-anchor="middle">5</text>
</svg>
</body></html>
